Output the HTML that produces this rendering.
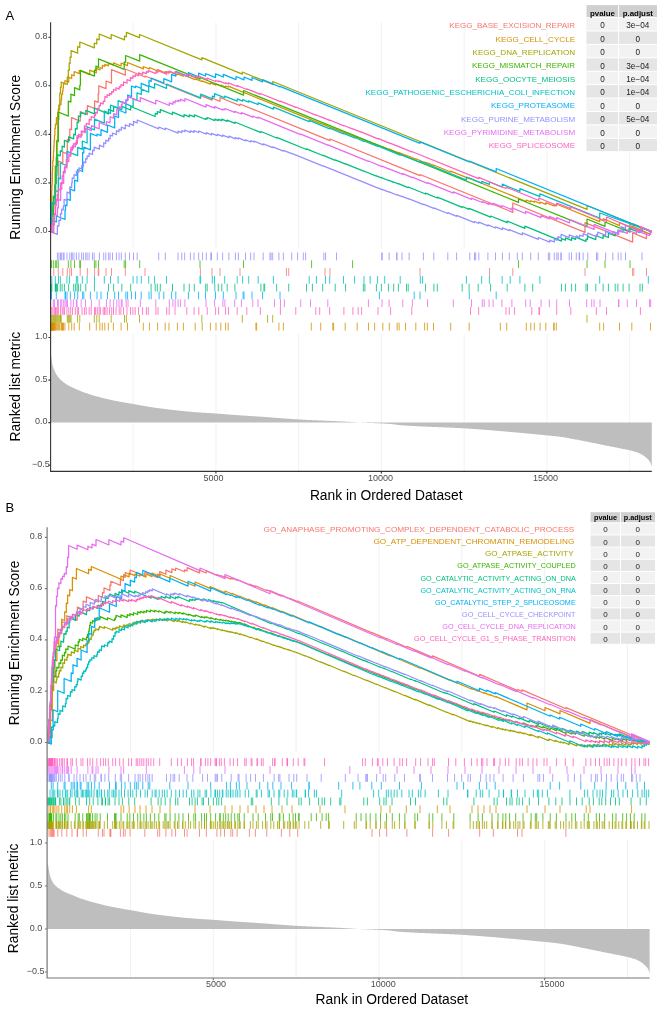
<!DOCTYPE html>
<html><head><meta charset="utf-8"><style>
html,body{margin:0;padding:0;background:#fff;}
svg{display:block;font-family:"Liberation Sans",sans-serif;will-change:transform;}
</style></head><body>
<svg width="666" height="1015" viewBox="0 0 666 1015">
<rect width="666" height="1015" fill="#fff"/>
<path d="M133.15 22.3V248.4M133.15 334.0V471.4M215.90 22.3V248.4M215.90 334.0V471.4M298.65 22.3V248.4M298.65 334.0V471.4M381.40 22.3V248.4M381.40 334.0V471.4M464.15 22.3V248.4M464.15 334.0V471.4M546.90 22.3V248.4M546.90 334.0V471.4M629.65 22.3V248.4M629.65 334.0V471.4" stroke="#EDEDED" stroke-width="0.8" fill="none"/>
<path d="M50.4,422.6 L50.40,352.82 L51.06,355.12 L51.72,360.07 L52.39,364.22 L53.05,366.74 L53.71,368.74 L54.37,370.39 L55.03,371.87 L55.70,373.20 L56.36,374.36 L57.02,375.39 L57.68,376.31 L58.34,377.17 L59.01,377.97 L59.67,378.72 L60.33,379.42 L60.99,380.08 L61.65,380.69 L62.32,381.27 L62.98,381.82 L63.64,382.34 L64.30,382.84 L64.96,383.31 L65.63,383.76 L66.29,384.19 L66.95,384.61 L67.61,385.01 L68.27,385.39 L68.94,385.76 L69.60,386.12 L70.26,386.46 L70.92,386.79 L71.58,387.11 L72.25,387.42 L72.91,387.72 L73.57,388.03 L74.23,388.32 L74.89,388.62 L75.56,388.91 L76.22,389.20 L76.88,389.49 L77.54,389.77 L78.20,390.05 L78.87,390.33 L79.53,390.60 L80.19,390.87 L80.85,391.14 L81.51,391.40 L82.18,391.66 L82.84,391.91 L83.50,392.16 L84.16,392.41 L84.82,392.65 L85.49,392.88 L86.15,393.12 L86.81,393.34 L87.47,393.57 L88.13,393.79 L88.80,394.00 L89.46,394.22 L90.12,394.43 L90.78,394.64 L91.44,394.84 L92.11,395.04 L92.77,395.24 L93.43,395.44 L94.09,395.63 L94.75,395.82 L95.42,396.01 L96.08,396.20 L96.74,396.38 L97.40,396.57 L98.06,396.75 L98.73,396.93 L99.39,397.11 L100.05,397.28 L100.71,397.46 L101.37,397.63 L102.04,397.80 L102.70,397.97 L103.36,398.14 L104.02,398.30 L104.68,398.47 L105.35,398.63 L106.01,398.79 L106.67,398.95 L107.33,399.10 L107.99,399.25 L108.66,399.41 L109.32,399.55 L109.98,399.70 L110.64,399.85 L111.30,399.99 L111.97,400.13 L112.63,400.27 L113.29,400.40 L113.95,400.54 L114.61,400.67 L115.28,400.80 L115.94,400.93 L116.60,401.06 L117.26,401.19 L117.92,401.32 L118.59,401.44 L119.25,401.57 L119.91,401.69 L120.57,401.81 L121.23,401.93 L121.90,402.05 L122.56,402.17 L123.22,402.29 L123.88,402.41 L124.54,402.52 L125.21,402.63 L125.87,402.74 L126.53,402.85 L127.19,402.96 L127.85,403.07 L128.52,403.18 L129.18,403.29 L129.84,403.40 L130.50,403.51 L131.16,403.61 L131.83,403.72 L132.49,403.83 L133.15,403.95 L133.81,404.06 L134.47,404.17 L135.14,404.29 L135.80,404.41 L136.46,404.53 L137.12,404.65 L137.78,404.77 L138.45,404.89 L139.11,405.01 L139.77,405.14 L140.43,405.26 L141.09,405.38 L141.76,405.51 L142.42,405.63 L143.08,405.75 L143.74,405.87 L144.40,405.99 L145.07,406.11 L145.73,406.23 L146.39,406.35 L147.05,406.46 L147.71,406.58 L148.38,406.69 L149.04,406.80 L149.70,406.91 L150.36,407.01 L151.02,407.12 L151.69,407.22 L152.35,407.32 L153.01,407.41 L153.67,407.51 L154.33,407.60 L155.00,407.70 L155.66,407.79 L156.32,407.88 L156.98,407.98 L157.64,408.07 L158.31,408.16 L158.97,408.24 L159.63,408.33 L160.29,408.42 L160.95,408.51 L161.62,408.59 L162.28,408.68 L162.94,408.76 L163.60,408.84 L164.26,408.93 L164.93,409.01 L165.59,409.09 L166.25,409.17 L166.91,409.25 L167.57,409.33 L168.24,409.41 L168.90,409.48 L169.56,409.56 L170.22,409.64 L170.88,409.72 L171.55,409.79 L172.21,409.87 L172.87,409.94 L173.53,410.02 L174.19,410.09 L174.86,410.17 L175.52,410.24 L176.18,410.32 L176.84,410.39 L177.50,410.46 L178.17,410.54 L178.83,410.61 L179.49,410.68 L180.15,410.75 L180.81,410.82 L181.48,410.89 L182.14,410.96 L182.80,411.03 L183.46,411.10 L184.12,411.17 L184.79,411.24 L185.45,411.30 L186.11,411.37 L186.77,411.43 L187.43,411.50 L188.10,411.56 L188.76,411.62 L189.42,411.68 L190.08,411.74 L190.74,411.80 L191.41,411.86 L192.07,411.91 L192.73,411.97 L193.39,412.02 L194.05,412.08 L194.72,412.13 L195.38,412.18 L196.04,412.23 L196.70,412.28 L197.36,412.32 L198.03,412.37 L198.69,412.41 L199.35,412.46 L200.01,412.50 L200.67,412.54 L201.34,412.59 L202.00,412.63 L202.66,412.67 L203.32,412.71 L203.98,412.75 L204.65,412.79 L205.31,412.83 L205.97,412.87 L206.63,412.91 L207.29,412.95 L207.96,412.99 L208.62,413.03 L209.28,413.07 L209.94,413.12 L210.60,413.16 L211.27,413.20 L211.93,413.24 L212.59,413.28 L213.25,413.33 L213.91,413.37 L214.58,413.42 L215.24,413.46 L215.90,413.51 L216.56,413.56 L217.22,413.60 L217.89,413.65 L218.55,413.70 L219.21,413.75 L219.87,413.80 L220.53,413.85 L221.20,413.90 L221.86,413.96 L222.52,414.01 L223.18,414.06 L223.84,414.11 L224.51,414.16 L225.17,414.22 L225.83,414.27 L226.49,414.32 L227.15,414.37 L227.82,414.43 L228.48,414.48 L229.14,414.53 L229.80,414.58 L230.46,414.64 L231.13,414.69 L231.79,414.74 L232.45,414.79 L233.11,414.84 L233.77,414.89 L234.44,414.94 L235.10,414.98 L235.76,415.03 L236.42,415.08 L237.08,415.12 L237.75,415.17 L238.41,415.22 L239.07,415.26 L239.73,415.31 L240.39,415.35 L241.06,415.40 L241.72,415.44 L242.38,415.48 L243.04,415.53 L243.70,415.57 L244.37,415.61 L245.03,415.66 L245.69,415.70 L246.35,415.74 L247.01,415.79 L247.68,415.83 L248.34,415.87 L249.00,415.91 L249.66,415.96 L250.32,416.00 L250.99,416.04 L251.65,416.08 L252.31,416.13 L252.97,416.17 L253.63,416.21 L254.30,416.25 L254.96,416.30 L255.62,416.34 L256.28,416.38 L256.94,416.43 L257.61,416.47 L258.27,416.52 L258.93,416.56 L259.59,416.61 L260.25,416.65 L260.92,416.70 L261.58,416.74 L262.24,416.79 L262.90,416.84 L263.56,416.88 L264.23,416.93 L264.89,416.98 L265.55,417.03 L266.21,417.08 L266.87,417.13 L267.54,417.18 L268.20,417.23 L268.86,417.27 L269.52,417.32 L270.18,417.37 L270.85,417.43 L271.51,417.48 L272.17,417.53 L272.83,417.58 L273.49,417.63 L274.16,417.68 L274.82,417.73 L275.48,417.78 L276.14,417.83 L276.80,417.88 L277.47,417.93 L278.13,417.98 L278.79,418.03 L279.45,418.08 L280.11,418.14 L280.78,418.19 L281.44,418.24 L282.10,418.29 L282.76,418.34 L283.42,418.39 L284.09,418.43 L284.75,418.48 L285.41,418.53 L286.07,418.58 L286.73,418.63 L287.40,418.68 L288.06,418.73 L288.72,418.77 L289.38,418.82 L290.04,418.87 L290.71,418.91 L291.37,418.96 L292.03,419.00 L292.69,419.05 L293.35,419.09 L294.02,419.14 L294.68,419.18 L295.34,419.22 L296.00,419.26 L296.66,419.31 L297.33,419.35 L297.99,419.39 L298.65,419.43 L299.31,419.47 L299.97,419.50 L300.64,419.54 L301.30,419.58 L301.96,419.62 L302.62,419.65 L303.28,419.69 L303.95,419.72 L304.61,419.76 L305.27,419.79 L305.93,419.82 L306.59,419.86 L307.26,419.89 L307.92,419.92 L308.58,419.95 L309.24,419.99 L309.90,420.02 L310.57,420.05 L311.23,420.08 L311.89,420.11 L312.55,420.14 L313.21,420.17 L313.88,420.20 L314.54,420.23 L315.20,420.26 L315.86,420.29 L316.52,420.31 L317.19,420.34 L317.85,420.37 L318.51,420.40 L319.17,420.43 L319.83,420.46 L320.50,420.48 L321.16,420.51 L321.82,420.54 L322.48,420.57 L323.14,420.59 L323.81,420.62 L324.47,420.65 L325.13,420.68 L325.79,420.70 L326.45,420.73 L327.12,420.76 L327.78,420.79 L328.44,420.82 L329.10,420.84 L329.76,420.87 L330.43,420.90 L331.09,420.93 L331.75,420.96 L332.41,420.99 L333.07,421.02 L333.74,421.05 L334.40,421.07 L335.06,421.10 L335.72,421.13 L336.38,421.16 L337.05,421.20 L337.71,421.23 L338.37,421.26 L339.03,421.29 L339.69,421.32 L340.36,421.35 L341.02,421.39 L341.68,421.42 L342.34,421.45 L343.00,421.49 L343.67,421.52 L344.33,421.56 L344.99,421.59 L345.65,421.63 L346.31,421.66 L346.98,421.70 L347.64,421.74 L348.30,421.78 L348.96,421.82 L349.62,421.86 L350.29,421.90 L350.95,421.95 L351.61,421.99 L352.27,422.03 L352.93,422.07 L353.60,422.12 L354.26,422.16 L354.92,422.20 L355.58,422.24 L356.24,422.28 L356.91,422.32 L357.57,422.37 L358.23,422.41 L358.89,422.45 L359.55,422.48 L360.22,422.52 L360.88,422.56 L361.54,422.60 L362.20,422.63 L362.86,422.67 L363.53,422.70 L364.19,422.73 L364.85,422.76 L365.51,422.79 L366.17,422.82 L366.84,422.85 L367.50,422.88 L368.16,422.91 L368.82,422.93 L369.48,422.96 L370.15,422.99 L370.81,423.01 L371.47,423.04 L372.13,423.07 L372.79,423.09 L373.46,423.12 L374.12,423.14 L374.78,423.17 L375.44,423.19 L376.10,423.22 L376.77,423.25 L377.43,423.27 L378.09,423.30 L378.75,423.33 L379.41,423.36 L380.08,423.39 L380.74,423.42 L381.40,423.45 L382.06,423.48 L382.72,423.51 L383.39,423.54 L384.05,423.58 L384.71,423.61 L385.37,423.65 L386.03,423.69 L386.70,423.73 L387.36,423.77 L388.02,423.81 L388.68,423.85 L389.34,423.90 L390.01,423.95 L390.67,424.00 L391.33,424.06 L391.99,424.13 L392.65,424.21 L393.32,424.29 L393.98,424.38 L394.64,424.47 L395.30,424.56 L395.96,424.65 L396.63,424.75 L397.29,424.83 L397.95,424.92 L398.61,425.00 L399.27,425.07 L399.94,425.13 L400.60,425.18 L401.26,425.23 L401.92,425.28 L402.58,425.33 L403.25,425.38 L403.91,425.43 L404.57,425.47 L405.23,425.52 L405.89,425.56 L406.56,425.61 L407.22,425.65 L407.88,425.69 L408.54,425.74 L409.20,425.78 L409.87,425.82 L410.53,425.86 L411.19,425.90 L411.85,425.93 L412.51,425.97 L413.18,426.01 L413.84,426.05 L414.50,426.08 L415.16,426.12 L415.82,426.15 L416.49,426.19 L417.15,426.22 L417.81,426.25 L418.47,426.29 L419.13,426.32 L419.80,426.35 L420.46,426.38 L421.12,426.41 L421.78,426.44 L422.44,426.47 L423.11,426.50 L423.77,426.53 L424.43,426.56 L425.09,426.59 L425.75,426.62 L426.42,426.65 L427.08,426.68 L427.74,426.71 L428.40,426.73 L429.06,426.76 L429.73,426.79 L430.39,426.81 L431.05,426.84 L431.71,426.87 L432.37,426.89 L433.04,426.92 L433.70,426.95 L434.36,426.97 L435.02,427.00 L435.68,427.03 L436.35,427.05 L437.01,427.08 L437.67,427.11 L438.33,427.13 L438.99,427.16 L439.66,427.18 L440.32,427.21 L440.98,427.24 L441.64,427.26 L442.30,427.29 L442.97,427.32 L443.63,427.34 L444.29,427.37 L444.95,427.40 L445.61,427.43 L446.28,427.45 L446.94,427.48 L447.60,427.51 L448.26,427.54 L448.92,427.57 L449.59,427.60 L450.25,427.63 L450.91,427.66 L451.57,427.69 L452.23,427.72 L452.90,427.75 L453.56,427.78 L454.22,427.81 L454.88,427.85 L455.54,427.88 L456.21,427.91 L456.87,427.95 L457.53,427.98 L458.19,428.01 L458.85,428.05 L459.52,428.09 L460.18,428.12 L460.84,428.16 L461.50,428.20 L462.16,428.24 L462.83,428.28 L463.49,428.32 L464.15,428.36 L464.81,428.40 L465.47,428.44 L466.14,428.48 L466.80,428.52 L467.46,428.57 L468.12,428.61 L468.78,428.65 L469.45,428.70 L470.11,428.74 L470.77,428.78 L471.43,428.83 L472.09,428.87 L472.76,428.92 L473.42,428.96 L474.08,429.01 L474.74,429.06 L475.40,429.10 L476.07,429.15 L476.73,429.20 L477.39,429.25 L478.05,429.29 L478.71,429.34 L479.38,429.39 L480.04,429.44 L480.70,429.49 L481.36,429.54 L482.02,429.59 L482.69,429.64 L483.35,429.69 L484.01,429.74 L484.67,429.79 L485.33,429.84 L486.00,429.89 L486.66,429.94 L487.32,429.99 L487.98,430.04 L488.64,430.10 L489.31,430.15 L489.97,430.20 L490.63,430.26 L491.29,430.31 L491.95,430.36 L492.62,430.42 L493.28,430.47 L493.94,430.52 L494.60,430.58 L495.26,430.63 L495.93,430.69 L496.59,430.74 L497.25,430.80 L497.91,430.85 L498.57,430.91 L499.24,430.97 L499.90,431.02 L500.56,431.08 L501.22,431.14 L501.88,431.19 L502.55,431.25 L503.21,431.31 L503.87,431.36 L504.53,431.42 L505.19,431.48 L505.86,431.54 L506.52,431.60 L507.18,431.65 L507.84,431.71 L508.50,431.77 L509.17,431.83 L509.83,431.89 L510.49,431.95 L511.15,432.01 L511.81,432.07 L512.48,432.13 L513.14,432.19 L513.80,432.25 L514.46,432.31 L515.12,432.37 L515.79,432.43 L516.45,432.49 L517.11,432.55 L517.77,432.61 L518.43,432.67 L519.10,432.73 L519.76,432.79 L520.42,432.85 L521.08,432.92 L521.74,432.98 L522.41,433.04 L523.07,433.10 L523.73,433.16 L524.39,433.23 L525.05,433.29 L525.72,433.35 L526.38,433.41 L527.04,433.48 L527.70,433.54 L528.36,433.60 L529.03,433.66 L529.69,433.73 L530.35,433.79 L531.01,433.85 L531.67,433.92 L532.34,433.98 L533.00,434.04 L533.66,434.11 L534.32,434.17 L534.98,434.23 L535.65,434.30 L536.31,434.36 L536.97,434.42 L537.63,434.49 L538.29,434.55 L538.96,434.61 L539.62,434.68 L540.28,434.74 L540.94,434.81 L541.60,434.87 L542.27,434.93 L542.93,435.00 L543.59,435.06 L544.25,435.13 L544.91,435.19 L545.58,435.26 L546.24,435.32 L546.90,435.38 L547.56,435.45 L548.22,435.51 L548.89,435.58 L549.55,435.64 L550.21,435.70 L550.87,435.77 L551.53,435.83 L552.20,435.90 L552.86,435.97 L553.52,436.03 L554.18,436.10 L554.84,436.17 L555.51,436.24 L556.17,436.32 L556.83,436.39 L557.49,436.47 L558.15,436.54 L558.82,436.62 L559.48,436.71 L560.14,436.79 L560.80,436.88 L561.46,436.97 L562.13,437.06 L562.79,437.16 L563.45,437.26 L564.11,437.37 L564.77,437.47 L565.44,437.58 L566.10,437.69 L566.76,437.81 L567.42,437.92 L568.08,438.04 L568.75,438.16 L569.41,438.28 L570.07,438.40 L570.73,438.52 L571.39,438.64 L572.06,438.76 L572.72,438.89 L573.38,439.01 L574.04,439.13 L574.70,439.26 L575.37,439.38 L576.03,439.50 L576.69,439.62 L577.35,439.75 L578.01,439.87 L578.68,440.00 L579.34,440.13 L580.00,440.26 L580.66,440.39 L581.32,440.52 L581.99,440.65 L582.65,440.79 L583.31,440.92 L583.97,441.05 L584.63,441.19 L585.30,441.32 L585.96,441.46 L586.62,441.59 L587.28,441.73 L587.94,441.86 L588.61,442.00 L589.27,442.13 L589.93,442.26 L590.59,442.40 L591.25,442.53 L591.92,442.66 L592.58,442.80 L593.24,442.93 L593.90,443.07 L594.56,443.20 L595.23,443.34 L595.89,443.48 L596.55,443.61 L597.21,443.75 L597.87,443.89 L598.54,444.02 L599.20,444.16 L599.86,444.29 L600.52,444.43 L601.18,444.57 L601.85,444.70 L602.51,444.84 L603.17,444.97 L603.83,445.11 L604.49,445.24 L605.16,445.37 L605.82,445.51 L606.48,445.64 L607.14,445.77 L607.80,445.90 L608.47,446.03 L609.13,446.16 L609.79,446.29 L610.45,446.42 L611.11,446.55 L611.78,446.68 L612.44,446.81 L613.10,446.94 L613.76,447.07 L614.42,447.20 L615.09,447.33 L615.75,447.46 L616.41,447.60 L617.07,447.73 L617.73,447.86 L618.40,447.99 L619.06,448.12 L619.72,448.26 L620.38,448.39 L621.04,448.53 L621.71,448.66 L622.37,448.79 L623.03,448.91 L623.69,449.04 L624.35,449.17 L625.02,449.30 L625.68,449.43 L626.34,449.56 L627.00,449.69 L627.66,449.83 L628.33,449.98 L628.99,450.13 L629.65,450.28 L630.31,450.44 L630.97,450.61 L631.64,450.78 L632.30,450.95 L632.96,451.14 L633.62,451.32 L634.28,451.52 L634.95,451.72 L635.61,451.93 L636.27,452.15 L636.93,452.37 L637.59,452.62 L638.26,452.87 L638.92,453.13 L639.58,453.42 L640.24,453.71 L640.90,454.04 L641.57,454.39 L642.23,454.78 L642.89,455.19 L643.55,455.63 L644.21,456.11 L644.88,456.61 L645.54,457.13 L646.20,457.69 L646.86,458.26 L647.52,458.87 L648.19,459.54 L648.85,460.31 L649.51,461.21 L650.17,462.25 L650.83,463.66 L651.50,465.73 L651.79,466.74 L651.8,422.6Z" fill="#BEBEBE"/>
<g fill="none" stroke-width="1.25" stroke-linejoin="round"><path d="M50.4,231.5 53.8,232.9 53.8,198 58.3,199.8 58.3,161 62.8,162.8 62.8,152 67.3,153.8 67.3,139.5 69.8,140.5 69.8,129 71.5,129.7 71.5,117.7 80.2,121.2 80.2,111.7 87.4,114.6 87.4,105.6 94.6,108.5 94.6,100.8 98.2,102.3 98.2,93.6 98.8,93.8 98.8,85.8 106,88.7 106,81 111.5,83.2 111.5,69.6 125.3,75.2 125.3,69 145,77 145,76 200.4,98.5 200.4,95.4 212,100.1 212,98 220,101.3 220,97.5 240,105.6 240,104 330,140.6 330,139 420,175.6 420,174.5 512.8,212.3 512.8,203 585,232.4 585,222.7 632.6,242.1 632.6,233 646.5,238.7 646.5,233 633.8,227.8 633.8,224.2 651.8,231.5" stroke="#F8766D"/><path d="M50.4,231.5 50.8,231.7 50.8,221.1 51.1,221.2 51.1,214.9 51.3,215 51.3,205.1 51.6,205.2 51.7,190.4 51.9,190.5 51.9,184.9 52.2,185 52.4,172.1 52.6,172.2 52.6,166.5 52.8,166.6 52.8,160.7 53.3,160.9 53.3,156.4 53.5,156.5 53.5,150.7 53.8,150.8 53.8,146.3 54.1,146.4 54.1,140.5 54.5,140.7 54.5,135.2 54.9,135.3 54.9,128.2 55.4,128.4 55.4,124.2 56.4,124.6 56.4,117.7 57.7,118.2 57.7,112.4 58.3,112.6 58.3,109.1 59.6,109.7 59.6,104 61,104.6 61,99.6 61.6,99.9 61.6,94 62.5,94.4 62.5,90.9 63,91.1 63,87.8 63.4,88 63.4,83.3 64.9,83.9 64.9,80.5 68.8,82.1 68.8,77.3 71.7,78.5 71.7,74.7 74.2,75.8 74.2,71.5 79.3,73.6 79.3,70.4 89.7,74.7 89.7,70.2 96.3,72.9 96.3,68.4 99.9,69.9 99.9,67.5 102.3,68.5 102.3,65.4 104.8,66.4 104.8,64.4 108.3,65.9 108.3,63.1 113.4,65.2 113.4,62.8 121.1,66 121.1,63 127.5,65.6 127.5,62.5 143.3,68.9 143.3,66.5 149.4,69 149.4,67.5 157.6,70.8 157.6,69.7 165.2,72.8 165.2,71.6 169,73.1 169,71.4 177.4,74.8 177.4,73.8 183.4,76.2 183.4,74.8 195.2,79.6 195.2,78.9 202.2,81.7 202.2,80.8 210.4,84.1 210.4,82.8 216,85.1 216,83.8 220.8,85.8 220.8,85.1 225.6,87 225.6,86 228.2,87 228.2,86.1 320.7,123.7 320.7,123.4 333.6,128.7 333.6,128.3 345.2,133.1 345.2,132.7 357.2,137.6 357.2,137.2 368.5,141.8 368.5,141.6 374.6,144.1 374.6,143.8 382.8,147.1 382.8,146.8 389.3,149.5 389.3,149.2 397.2,152.4 397.2,152.2 399.1,153 399.1,152.7 405.5,155.3 405.5,155 415.8,159.2 415.8,158.9 424.6,162.5 424.6,162.1 427.3,163.2 427.3,162.9 433.5,165.4 433.5,165 450.7,172 450.7,171.2 469.2,178.7 469.2,178.2 526.3,201.5 526.3,200 530.8,201.8 530.8,200.7 534.3,202.2 534.3,201.1 540.1,203.5 540.1,202 545.8,204.3 545.8,202.7 554,206 554,205 556.3,206 556.3,204 599.7,221.7 599.7,219.2 603.6,220.8 603.6,218.7 619.5,225.6 619.5,222.5 631.8,228.1 631.8,225.8 650.5,234.4 650.5,230.9 651.8,231.5" stroke="#D89000"/><path d="M50.4,231.5 51.3,231.9 51.3,224 52,224.3 52,216 52.8,216.3 52.8,207 53.6,207.3 53.6,197 54.6,197.4 54.6,185 55.4,185.3 55.4,172 56.2,172.3 56.2,157 57,157.3 57,140 57.9,140.4 57.9,119 58.8,119.4 58.8,105 59.8,105.4 59.8,93 60.5,93.3 60.5,87 61.2,87.3 61.2,82 67.3,84.5 67.3,77 68.3,77.4 68.3,70 69.2,70.4 69.2,63 70.1,63.4 70.1,57 71.1,57.4 71.1,50.6 77.6,53.2 77.6,46.5 79.8,47.4 79.8,42 94.3,47.9 94.3,43 96.8,44 96.8,38.8 99.2,39.8 99.2,34 111.2,38.9 111.2,34.5 124.5,39.9 124.5,36 126.4,36.8 126.4,32.4 139.5,37.7 139.5,34.5 201.8,59.9 201.8,57.6 242.3,74.1 242.3,72 272.7,84.4 272.7,81.5 587,209.4 587,205.5 651.8,231.9" stroke="#A3A500"/><path d="M50.4,231.5 51.5,231.9 51.5,214 53.3,214.7 53.3,196 55.3,196.8 55.3,166 56.7,166.6 56.7,141 58.3,141.7 58.3,112 68.3,116.1 68.3,101 70.9,102.1 70.9,94.2 74.5,95.7 74.5,87.7 79.8,89.9 79.8,85 80.4,85.2 80.4,70.4 94.4,76.1 94.4,70 95.9,70.6 95.9,66.2 98.5,67.3 98.5,58.8 124.2,69.3 124.2,62 125.6,62.6 125.6,55.5 139.7,61.2 139.7,54.7 200,79.2 200,77.5 243.5,95.2 243.5,90.5 518.5,202.4 518.5,199 587,226.9 587,219 605,226.3 605,222 630,232.2 630,223 651.8,231.9" stroke="#39B600"/><path d="M50.4,231.5 51.1,231.8 51.2,212.6 51.9,212.8 51.9,202.9 55.2,204.2 55.2,196 55.6,196.2 55.7,183.5 56.3,183.7 56.3,174.6 56.9,174.9 56.9,165.2 57.6,165.6 57.6,154.7 60.3,155.8 60.3,150.9 62.1,151.6 62.1,146.2 64.4,147.1 64.4,140.3 68.6,142 68.6,136.8 73.7,138.8 73.7,134.2 75.4,134.9 75.4,128.5 77.1,129.1 77.1,122.1 78.4,122.6 78.4,115.8 80.7,116.8 80.7,112.5 85.8,114.5 85.8,110.3 94.4,113.8 94.4,108.1 108.5,113.9 108.5,109.4 113.6,111.4 113.6,106.4 121.8,109.7 121.8,106.4 130.7,110 130.7,106.5 155.2,116.5 155.2,113.3 157.3,114.2 157.3,111.5 160.3,112.7 160.3,109.6 172.5,114.5 172.5,112.2 184,116.9 184,114.7 189.3,116.9 189.3,114.9 194.3,116.9 194.3,114.8 205.7,119.5 205.7,118.3 207.2,118.9 207.2,117.5 214.8,120.6 214.8,119.2 218.3,120.6 218.3,119.3 221.8,120.7 221.8,119.2 227.2,121.4 227.2,120.2 234.9,123.4 234.9,122 260.9,132.6 260.9,131.5 276.7,138 276.7,137.3 306.5,149.5 306.5,148.9 322.7,155.5 322.7,155.2 335.2,160.3 335.2,159.9 345.6,164.2 345.6,163.9 364.9,171.7 364.9,171.5 376.4,176.2 376.4,175.9 381.4,177.9 381.4,177.6 388.4,180.5 388.4,180.1 393.7,182.3 393.7,182 398.4,183.9 398.4,183.6 408.2,187.6 408.2,187 425.5,194 425.5,193.2 437.3,198 437.3,197.2 462.2,207.3 462.2,206.5 469.1,209.3 469.1,208.3 490.6,217.1 490.6,216 507.2,222.7 507.2,221.1 524.9,228.3 524.9,226.2 561.5,241.1 561.5,238.7 565.4,240.2 565.4,237.9 571.6,240.4 571.6,237.7 575.6,239.4 575.6,237.1 586,241.4 586,239 587.5,239.7 587.5,236.3 595.8,239.6 595.8,235.5 603.1,238.5 603.1,235.3 608.4,237.5 608.4,233.1 615.2,235.8 615.2,233 617.9,234.1 617.9,230.1 623.1,232.1 623.1,228.8 629.1,231.2 629.1,228.3 640,232.7 640,230.1 642.3,231.1 642.3,227.7 651.8,231.5" stroke="#00BF7D"/><path d="M50.4,231.5 51.8,232.1 51.8,202.6 55.3,204 55.3,190.5 58.5,191.8 58.5,178.2 60.3,178.9 60.3,163 66.9,165.7 66.9,151.3 77.7,155.6 77.7,147.4 82.3,149.3 82.3,141 87.1,143 87.1,126.8 94.5,129.8 94.5,119.1 104.3,123.1 104.3,111 110.5,113.5 110.5,105 118.1,108.1 118.1,100.7 133.1,106.8 133.1,98.8 137,100.4 137,92.8 141.3,94.5 141.3,89.1 148.7,92.1 148.7,85.8 154.6,88.2 154.6,83.5 166.5,88.4 166.5,84 200.7,97.9 200.7,94.2 212.3,98.9 212.3,96.2 214.5,97.1 214.5,93.6 224.7,97.8 224.7,96.1 237.2,101.2 237.2,98.9 242.6,101.1 242.6,99.7 248.7,102.2 248.7,100.8 258.2,104.6 258.2,102.9 273.4,109.1 273.4,107.1 309.2,121.7 309.2,120.4 329.7,128.8 329.7,128.1 343.5,133.8 343.5,133.4 354.6,137.9 354.6,137.5 364,141.4 364,141 377.6,146.3 377.6,145.9 400.2,155.2 400.2,154.4 420.3,162.5 420.3,161.3 466.4,180.1 466.4,177 481.7,183.2 481.7,181.3 489.4,184.4 489.4,182 502.2,187.2 502.2,184.2 519.9,191.4 519.9,188.6 539.9,196.7 539.9,193.8 599.7,218.2 599.7,213 651.8,231.5" stroke="#00BFC4"/><path d="M50.4,231.5 50.9,231.7 50.9,226 51.5,226.2 51.5,220 56.3,222 56.3,216 65,219.5 65,210 65.5,210.2 65.5,205 67,205.6 67,199 70.3,200.3 70.3,189 74.6,190.8 74.6,180 77.7,181.3 77.7,169.5 82.6,171.5 82.6,152.5 83.8,153 83.8,147.1 90.4,149.8 90.4,133.3 97,136 97,134 101,135.6 101,129.7 107.5,132.3 107.5,125 114.7,127.9 114.7,116 118.5,117.5 118.5,110 125.9,113 125.9,100 127.6,100.7 127.6,95 131.5,96.6 131.5,86 135.5,87.6 135.5,86 141.2,88.3 141.2,83.4 149,86.6 149,80.5 151.2,81.4 151.2,78 163.8,83.1 163.8,78.6 171.6,81.8 171.6,74.4 175.8,76.1 175.8,71.4 188.4,76.5 188.4,72.6 198.6,76.8 198.6,73.2 205.5,76 205.5,73.5 215.5,77.6 215.5,73.8 223.3,77 223.3,74.4 236,79.6 236,76.5 244,79.8 244,77 252,80.3 252,77.5 262.6,81.8 262.6,79.7 280,86.8 280,86.3 420,143.3 420,141.9 469.3,162 469.3,161 496.2,171.9 496.2,168.5 651.8,231.8" stroke="#00B0F6"/><path d="M50.4,231.5 57.4,234.4 57.4,225.5 58.9,226.1 58.9,220 60.5,220.6 60.5,213.5 61.6,214 61.6,209.2 63.3,209.9 63.3,206 64.1,206.3 64.1,199.4 67,200.5 67,192.2 69.8,193.3 69.8,186.8 71.7,187.6 71.7,182.6 72.2,182.9 72.2,177.8 74,178.5 74,174.6 76.4,175.6 76.4,171.2 78.9,172.2 78.9,167.9 81.6,169 81.6,165.8 83.4,166.6 83.4,161.9 85.7,162.8 85.7,158.6 87.1,159.1 87.1,155.8 89.1,156.6 89.1,153.1 92.5,154.5 92.5,150.1 94.2,150.8 94.2,147.1 99.4,149.2 99.4,145.2 103.7,147 103.7,142.7 105.8,143.6 105.8,140.1 108.6,141.2 108.6,138.2 110.1,138.9 110.1,135.1 112.5,136 112.5,133 116.4,134.6 116.4,130.7 119,131.8 119,129.2 121.3,130.2 121.3,127.2 125.3,128.8 125.3,124.8 129.5,126.5 129.5,123.7 133.5,125.3 133.5,121.4 137.2,122.9 137.2,120 158.7,128.8 158.7,127 165.3,129.7 165.3,128 178,133.2 178,131.1 181.8,132.6 181.8,130.5 184.7,131.6 184.7,130.1 190.4,132.4 190.4,130.9 194,132.4 194,130.6 198.7,132.5 198.7,131 206.3,134.1 206.3,132.7 211.5,134.8 211.5,133.3 217.3,135.6 217.3,134.3 222.6,136.4 222.6,135.1 228.9,137.7 228.9,136.1 235.4,138.8 235.4,137.6 238.4,138.9 238.4,137.9 245.5,140.8 245.5,139.9 250.7,142 250.7,140.7 254,142 254,141.2 263.2,144.9 263.2,143.8 272.7,147.7 272.7,146.8 283.4,151.1 283.4,150.3 291.7,153.7 291.7,153.3 323.8,166.4 323.8,166.1 381.9,189.7 382,189.3 389.1,192.2 389.1,191.9 396.8,195 396.9,194.6 402,196.6 402,196.3 409.1,199.2 409.1,198.8 423.4,204.6 423.4,204.2 433.8,208.4 433.8,207.8 447.8,213.5 447.8,212.7 456.6,216.3 456.6,215.4 474.5,222.7 474.5,221.5 478.8,223.3 478.8,222.2 487.9,225.9 487.9,224.9 495.5,228 495.5,226.9 502.4,229.7 502.4,227.9 509.3,230.7 509.3,229.6 522.3,234.8 522.3,232.8 538.3,239.3 538.3,237.5 549.7,242.2 549.7,240.2 554.3,242 554.3,239.2 556.8,240.3 556.8,237.9 558.2,238.5 558.2,236.7 561,237.8 561.1,234.4 569.2,237.7 569.2,234.8 576.3,237.7 576.3,235.9 579.6,237.3 579.6,235 583.1,236.4 583.1,233.7 587.8,235.6 587.8,233.2 596.5,236.7 596.5,234.7 597.7,235.2 597.7,232.2 605.6,235.4 605.6,231.2 612.8,234.2 612.8,231.4 618.2,233.6 618.2,230.7 621,231.8 621,226.7 625.5,228.5 625.5,225.2 642,231.7 642,227.6 651.8,231.5" stroke="#9590FF"/><path d="M50.4,231.5 53.3,232.7 53.3,224.6 54.4,225.1 54.4,214.4 57.5,215.6 57.5,207.6 58.3,208 58.3,199.3 60.7,200.3 60.7,188.8 61.8,189.2 61.8,182.5 63.7,183.3 63.7,172.4 65.1,173 65.1,166.8 66.3,167.3 66.3,159.4 67.5,159.9 67.5,153.5 70.9,154.8 70.9,147.3 73.4,148.3 73.4,143.6 76.4,144.8 76.4,140.6 77,140.9 77,135.6 81.2,137.3 81.2,131 85.5,132.7 85.5,128.2 91.4,130.6 91.4,125.6 99.2,128.8 99.2,122.5 106.4,125.5 106.4,121.5 110.1,122.9 110.1,116.8 113.6,118.2 113.6,113.6 116.8,114.9 116.8,109.3 119,110.2 119,106.9 121.3,107.8 121.3,104.7 122.1,105.1 122.1,101.7 126.1,103.3 126.1,99.4 128,100.2 128,96.7 140.3,101.7 140.3,97.6 155.8,103.9 155.8,100 169.3,105.5 169.3,102.9 172.9,104.3 172.9,101.9 175.2,102.8 175.2,100.5 178.1,101.6 178.1,100.1 180.4,101.1 180.4,99.4 184.9,101.2 184.9,98.5 206,107.1 206,104.7 214.6,108.2 214.6,106.7 222.9,110.1 222.9,109 224.9,109.8 224.9,108.5 234.7,112.4 234.7,111.3 241.4,114 241.4,112.6 252.8,117.2 252.8,116.1 258,118.2 258,117.2 300.7,134.6 300.7,134.2 327.8,145.2 327.8,144.8 368.4,161.3 368.4,161 382,166.6 382,166.2 389.1,169.1 389.1,168.8 402.8,174.4 402.8,173.7 412.4,177.6 412.4,177.2 427.5,183.3 427.5,182.6 453.3,193.1 453.3,191.9 471.5,199.3 471.5,198.1 482.3,202.5 482.3,201.6 489.1,204.4 489.1,203.2 493.1,204.8 493.1,203.4 501.9,206.9 501.9,205.5 511.9,209.6 511.9,207.9 525.7,213.5 525.7,211.4 541.1,217.7 541.1,215.6 549.3,219 549.3,216.4 556.7,219.4 556.7,217.7 569.5,222.9 569.5,219.4 594.1,229.4 594.1,224.3 618.8,234.3 618.8,230.1 627.3,233.4 627.3,229.9 636.5,233.5 636.5,230.6 649.5,235.7 649.5,233.2 650.7,233.7 650.7,231.1 651.8,231.5" stroke="#E76BF3"/><path d="M50.4,231.5 51.8,232.1 51.8,224.7 53,225.2 53,219.9 54.4,220.5 54.4,213.6 55.5,214.1 55.5,205.8 56.2,206 56.2,200.3 57.3,200.7 57.3,194.7 58.4,195.2 58.4,189.2 60.5,190.1 60.5,182.9 62.2,183.6 62.2,175.9 63.2,176.3 63.2,171.3 64.5,171.8 64.5,166.9 66.9,167.9 66.9,160.8 68.8,161.6 68.8,155.7 70.7,156.4 70.7,149.5 72.5,150.2 72.5,145.9 75.3,147 75.3,142.9 77.3,143.7 77.3,137.5 78.6,138 78.6,134.3 82,135.6 82,131 84.4,132 84.4,125.8 86.2,126.6 86.2,123.3 89.2,124.5 89.2,119.3 91.2,120.1 91.2,116.5 94.5,117.9 94.5,115.1 95.6,115.5 95.6,112.4 97.3,113.1 97.3,108.2 99.1,109 99.1,105.4 100.4,105.9 100.4,102.8 103.2,103.9 103.2,101 104.8,101.7 104.9,96.5 107.1,97.4 107.1,94.6 109.6,95.7 109.6,93.4 111.7,94.2 111.7,91.5 113.5,92.2 113.5,89.3 116,90.4 116,87.7 119.2,89.1 119.2,86.5 120.9,87.2 120.9,84.5 123.5,85.6 123.5,81.8 127,83.3 127,79.5 130.5,80.9 130.5,77.3 132.9,78.3 132.9,75.7 135.2,76.7 135.2,74.5 138.5,75.8 138.5,72.8 142.6,74.4 142.6,72.1 146.4,73.6 146.4,71.5 148.3,72.3 148.3,70.6 155.9,73.6 155.9,71.6 158,72.4 158,70.6 166.7,74.1 166.7,71.6 169.2,72.6 169.2,71.1 175,73.5 175,71.6 186.8,76.5 186.8,74.2 194.1,77.1 194.1,75.8 198.8,77.8 198.8,76 207.2,79.5 207.2,78.1 215.6,81.5 215.6,80.5 218.6,81.7 218.6,80.8 225.6,83.7 225.6,82.8 228.4,83.9 228.4,82.9 237.2,86.5 237.2,85.6 246.8,89.5 246.8,88.8 260.4,94.3 260.4,93.5 280.4,101.7 280.4,101.1 295.8,107.4 295.8,107 315.8,115.1 315.8,114.9 319.7,116.5 319.7,116.3 329.7,120.3 329.7,120 343.9,125.8 343.9,125.5 352.9,129.1 352.9,128.9 361.6,132.4 361.6,132.1 378,138.8 378,138.4 390.6,143.6 390.6,143.3 411.8,151.9 411.8,151.5 478.6,178.7 478.6,177.4 506,188.5 506,187.1 538.9,200.5 538.9,198 556.7,205.3 556.7,203 570.8,208.7 570.8,206.9 606.5,221.5 606.5,217 640.4,231.3 640.4,226.6 651.8,231.5" stroke="#FF62BC"/></g>
<g fill="none" stroke-width="0.8"><path d="M57.4 252.5V260.3M58.9 252.5V260.3M60.5 252.5V260.3M61.6 252.5V260.3M63.3 252.5V260.3M64.1 252.5V260.3M67 252.5V260.3M69.8 252.5V260.3M71.7 252.5V260.3M72.2 252.5V260.3M74 252.5V260.3M76.4 252.5V260.3M78.9 252.5V260.3M81.6 252.5V260.3M83.4 252.5V260.3M85.7 252.5V260.3M87.1 252.5V260.3M89.1 252.5V260.3M92.5 252.5V260.3M94.2 252.5V260.3M99.4 252.5V260.3M103.7 252.5V260.3M105.8 252.5V260.3M108.6 252.5V260.3M110.1 252.5V260.3M112.5 252.5V260.3M116.4 252.5V260.3M119 252.5V260.3M121.3 252.5V260.3M125.3 252.5V260.3M129.5 252.5V260.3M133.5 252.5V260.3M137.2 252.5V260.3M158.7 252.5V260.3M165.3 252.5V260.3M178 252.5V260.3M181.8 252.5V260.3M184.7 252.5V260.3M190.4 252.5V260.3M194 252.5V260.3M198.7 252.5V260.3M202.6 252.5V260.3M206.3 252.5V260.3M210.8 252.5V260.3M211.5 252.5V260.3M217.3 252.5V260.3M222.6 252.5V260.3M228.9 252.5V260.3M235.4 252.5V260.3M238.4 252.5V260.3M245.5 252.5V260.3M250.7 252.5V260.3M254 252.5V260.3M263.2 252.5V260.3M269.9 252.5V260.3M271.1 252.5V260.3M272.7 252.5V260.3M278.9 252.5V260.3M283.4 252.5V260.3M291.7 252.5V260.3M297.6 252.5V260.3M303.3 252.5V260.3M305.6 252.5V260.3M323.8 252.5V260.3M325.6 252.5V260.3M336.5 252.5V260.3M381.9 252.5V260.3M382 252.5V260.3M389.1 252.5V260.3M396.8 252.5V260.3M396.9 252.5V260.3M402 252.5V260.3M409.1 252.5V260.3M423.4 252.5V260.3M433.8 252.5V260.3M447.8 252.5V260.3M456.6 252.5V260.3M469.8 252.5V260.3M474.5 252.5V260.3M475.6 252.5V260.3M478.8 252.5V260.3M487.9 252.5V260.3M495.5 252.5V260.3M502.4 252.5V260.3M509.3 252.5V260.3M517.3 252.5V260.3M522.3 252.5V260.3M530.7 252.5V260.3M538.3 252.5V260.3M548.4 252.5V260.3M549.7 252.5V260.3M554.3 252.5V260.3M556.8 252.5V260.3M558.2 252.5V260.3M561 252.5V260.3M561.1 252.5V260.3M569.2 252.5V260.3M571.5 252.5V260.3M576.3 252.5V260.3M579.1 252.5V260.3M579.6 252.5V260.3M583.1 252.5V260.3M587.8 252.5V260.3M596.5 252.5V260.3M597.7 252.5V260.3M605.6 252.5V260.3M612.8 252.5V260.3M618.2 252.5V260.3M621 252.5V260.3M625.5 252.5V260.3M642 252.5V260.3" stroke="#9590FF"/><path d="M51.5 260.3V268.1M53.3 260.3V268.1M55.3 260.3V268.1M56.7 260.3V268.1M58.3 260.3V268.1M68.3 260.3V268.1M70.9 260.3V268.1M74.5 260.3V268.1M79.8 260.3V268.1M80.4 260.3V268.1M94.4 260.3V268.1M95.9 260.3V268.1M98.5 260.3V268.1M124.2 260.3V268.1M125.6 260.3V268.1M139.7 260.3V268.1M200 260.3V268.1M243.5 260.3V268.1M311.6 260.3V268.1M352.6 260.3V268.1M518.5 260.3V268.1M587 260.3V268.1M605 260.3V268.1M630 260.3V268.1" stroke="#39B600"/><path d="M53.8 268.1V275.9M58.3 268.1V275.9M62.8 268.1V275.9M67.3 268.1V275.9M69.8 268.1V275.9M71.5 268.1V275.9M80.2 268.1V275.9M87.4 268.1V275.9M94.6 268.1V275.9M98.2 268.1V275.9M98.8 268.1V275.9M106 268.1V275.9M111.5 268.1V275.9M125.3 268.1V275.9M145 268.1V275.9M200.4 268.1V275.9M212 268.1V275.9M220 268.1V275.9M240 268.1V275.9M286.4 268.1V275.9M288.7 268.1V275.9M325 268.1V275.9M330 268.1V275.9M420 268.1V275.9M489.6 268.1V275.9M512.8 268.1V275.9M585 268.1V275.9M632.6 268.1V275.9M633.8 268.1V275.9M646.5 268.1V275.9" stroke="#F8766D"/><path d="M51.8 275.9V283.7M55.3 275.9V283.7M58.5 275.9V283.7M60.3 275.9V283.7M66.9 275.9V283.7M69.6 275.9V283.7M76.4 275.9V283.7M77.7 275.9V283.7M82.3 275.9V283.7M87.1 275.9V283.7M94.5 275.9V283.7M104.3 275.9V283.7M110.5 275.9V283.7M118.1 275.9V283.7M133.1 275.9V283.7M137 275.9V283.7M141.3 275.9V283.7M148.7 275.9V283.7M154.6 275.9V283.7M166.5 275.9V283.7M200 275.9V283.7M200.7 275.9V283.7M212.3 275.9V283.7M214.5 275.9V283.7M224.7 275.9V283.7M237.2 275.9V283.7M242.6 275.9V283.7M248.7 275.9V283.7M258.2 275.9V283.7M273.4 275.9V283.7M309.2 275.9V283.7M316.4 275.9V283.7M325.5 275.9V283.7M329.7 275.9V283.7M343.5 275.9V283.7M354.6 275.9V283.7M364 275.9V283.7M370.1 275.9V283.7M377.6 275.9V283.7M384.7 275.9V283.7M400.2 275.9V283.7M420.3 275.9V283.7M422.6 275.9V283.7M466.4 275.9V283.7M481.7 275.9V283.7M489.4 275.9V283.7M502.2 275.9V283.7M510.2 275.9V283.7M519.9 275.9V283.7M539.9 275.9V283.7M599.7 275.9V283.7M648.3 275.9V283.7" stroke="#00BFC4"/><path d="M51.1 283.7V291.5M51.2 283.7V291.5M51.9 283.7V291.5M55.2 283.7V291.5M55.6 283.7V291.5M55.7 283.7V291.5M56.3 283.7V291.5M56.9 283.7V291.5M57.6 283.7V291.5M60.3 283.7V291.5M62.1 283.7V291.5M64.4 283.7V291.5M68.6 283.7V291.5M73.7 283.7V291.5M75.4 283.7V291.5M77.1 283.7V291.5M78.4 283.7V291.5M80.7 283.7V291.5M85.8 283.7V291.5M94.4 283.7V291.5M108.5 283.7V291.5M113.6 283.7V291.5M121.8 283.7V291.5M130.7 283.7V291.5M151.1 283.7V291.5M155.2 283.7V291.5M157.3 283.7V291.5M160.3 283.7V291.5M172.5 283.7V291.5M184 283.7V291.5M189.3 283.7V291.5M194.3 283.7V291.5M205.7 283.7V291.5M207.2 283.7V291.5M214.8 283.7V291.5M218.3 283.7V291.5M221.8 283.7V291.5M227.2 283.7V291.5M234.9 283.7V291.5M260.9 283.7V291.5M263.9 283.7V291.5M264.7 283.7V291.5M276.7 283.7V291.5M288.7 283.7V291.5M306.5 283.7V291.5M312.4 283.7V291.5M322.7 283.7V291.5M335.2 283.7V291.5M345.6 283.7V291.5M363.4 283.7V291.5M364.9 283.7V291.5M376.4 283.7V291.5M381.4 283.7V291.5M388.4 283.7V291.5M393.7 283.7V291.5M398.4 283.7V291.5M406.5 283.7V291.5M408.2 283.7V291.5M425.5 283.7V291.5M433.9 283.7V291.5M437.3 283.7V291.5M462.2 283.7V291.5M469.1 283.7V291.5M478.2 283.7V291.5M490.6 283.7V291.5M507.2 283.7V291.5M524.9 283.7V291.5M532.7 283.7V291.5M561.5 283.7V291.5M565.4 283.7V291.5M571.6 283.7V291.5M575.6 283.7V291.5M586 283.7V291.5M587.5 283.7V291.5M595.8 283.7V291.5M603.1 283.7V291.5M608.4 283.7V291.5M615.2 283.7V291.5M617.9 283.7V291.5M623.1 283.7V291.5M629.1 283.7V291.5M640 283.7V291.5M642.3 283.7V291.5" stroke="#00BF7D"/><path d="M50.9 291.5V299.3M51.5 291.5V299.3M56.3 291.5V299.3M65 291.5V299.3M65.5 291.5V299.3M67 291.5V299.3M70.3 291.5V299.3M74.6 291.5V299.3M77.7 291.5V299.3M82.6 291.5V299.3M83.8 291.5V299.3M90.4 291.5V299.3M97 291.5V299.3M101 291.5V299.3M107.5 291.5V299.3M114.7 291.5V299.3M118.5 291.5V299.3M125.9 291.5V299.3M127.6 291.5V299.3M131.5 291.5V299.3M135.5 291.5V299.3M141.2 291.5V299.3M149 291.5V299.3M151.2 291.5V299.3M159.1 291.5V299.3M163.8 291.5V299.3M171.6 291.5V299.3M175.8 291.5V299.3M188.4 291.5V299.3M198.6 291.5V299.3M205.5 291.5V299.3M215.5 291.5V299.3M223.3 291.5V299.3M236 291.5V299.3M243.1 291.5V299.3M244 291.5V299.3M252 291.5V299.3M262.6 291.5V299.3M280 291.5V299.3M379.4 291.5V299.3M414.2 291.5V299.3M420 291.5V299.3M469.3 291.5V299.3M496.2 291.5V299.3" stroke="#00B0F6"/><path d="M53.3 299.3V307.1M54.4 299.3V307.1M57.5 299.3V307.1M58.3 299.3V307.1M60.7 299.3V307.1M61.8 299.3V307.1M63.7 299.3V307.1M65.1 299.3V307.1M66.3 299.3V307.1M67.5 299.3V307.1M70.9 299.3V307.1M73.4 299.3V307.1M76.4 299.3V307.1M77 299.3V307.1M81.2 299.3V307.1M85.5 299.3V307.1M91.4 299.3V307.1M99.2 299.3V307.1M106.4 299.3V307.1M110.1 299.3V307.1M113.6 299.3V307.1M116.8 299.3V307.1M119 299.3V307.1M121.3 299.3V307.1M122.1 299.3V307.1M126.1 299.3V307.1M128 299.3V307.1M140.3 299.3V307.1M155.8 299.3V307.1M169.3 299.3V307.1M172.9 299.3V307.1M175.2 299.3V307.1M178.1 299.3V307.1M180.4 299.3V307.1M184.9 299.3V307.1M206 299.3V307.1M214.6 299.3V307.1M222.9 299.3V307.1M224.9 299.3V307.1M234.7 299.3V307.1M241.4 299.3V307.1M252.8 299.3V307.1M258 299.3V307.1M274.5 299.3V307.1M280.5 299.3V307.1M284.4 299.3V307.1M300.7 299.3V307.1M310.5 299.3V307.1M327.8 299.3V307.1M368.4 299.3V307.1M382 299.3V307.1M389.1 299.3V307.1M402.8 299.3V307.1M412.4 299.3V307.1M427.5 299.3V307.1M453.3 299.3V307.1M471.5 299.3V307.1M482.3 299.3V307.1M484.2 299.3V307.1M489.1 299.3V307.1M493.1 299.3V307.1M501.9 299.3V307.1M511.9 299.3V307.1M525.7 299.3V307.1M530.2 299.3V307.1M541.1 299.3V307.1M549.3 299.3V307.1M556.7 299.3V307.1M569.5 299.3V307.1M586.7 299.3V307.1M591.7 299.3V307.1M594.1 299.3V307.1M600 299.3V307.1M618.7 299.3V307.1M618.8 299.3V307.1M627.3 299.3V307.1M636.5 299.3V307.1M649.5 299.3V307.1M650.7 299.3V307.1" stroke="#E76BF3"/><path d="M51.8 307.1V314.9M53 307.1V314.9M54.4 307.1V314.9M55.5 307.1V314.9M56.2 307.1V314.9M57.3 307.1V314.9M58.4 307.1V314.9M60.5 307.1V314.9M62.2 307.1V314.9M63.2 307.1V314.9M64.5 307.1V314.9M66.9 307.1V314.9M68.8 307.1V314.9M70.7 307.1V314.9M72.5 307.1V314.9M75.3 307.1V314.9M77.3 307.1V314.9M78.6 307.1V314.9M82 307.1V314.9M84.4 307.1V314.9M86.2 307.1V314.9M89.2 307.1V314.9M91.2 307.1V314.9M94.5 307.1V314.9M95.6 307.1V314.9M97.3 307.1V314.9M99.1 307.1V314.9M100.4 307.1V314.9M103.2 307.1V314.9M104.8 307.1V314.9M104.9 307.1V314.9M107.1 307.1V314.9M109.6 307.1V314.9M111.7 307.1V314.9M113.5 307.1V314.9M116 307.1V314.9M119.2 307.1V314.9M120.9 307.1V314.9M123.5 307.1V314.9M127 307.1V314.9M130.5 307.1V314.9M132.9 307.1V314.9M135.2 307.1V314.9M138.5 307.1V314.9M142.6 307.1V314.9M146.4 307.1V314.9M148.3 307.1V314.9M155.9 307.1V314.9M158 307.1V314.9M166.7 307.1V314.9M169.2 307.1V314.9M175 307.1V314.9M186.8 307.1V314.9M194.1 307.1V314.9M198.8 307.1V314.9M207.2 307.1V314.9M215.6 307.1V314.9M218.6 307.1V314.9M225.6 307.1V314.9M228.4 307.1V314.9M237.2 307.1V314.9M246.8 307.1V314.9M260.4 307.1V314.9M280.4 307.1V314.9M295.8 307.1V314.9M315.8 307.1V314.9M319.7 307.1V314.9M329.7 307.1V314.9M343.9 307.1V314.9M352.9 307.1V314.9M358.1 307.1V314.9M361.6 307.1V314.9M378 307.1V314.9M390.6 307.1V314.9M411.8 307.1V314.9M470.5 307.1V314.9M478.6 307.1V314.9M506 307.1V314.9M509.3 307.1V314.9M514.6 307.1V314.9M531.8 307.1V314.9M538.9 307.1V314.9M539.6 307.1V314.9M556.7 307.1V314.9M570.8 307.1V314.9M596.3 307.1V314.9M606.5 307.1V314.9M640.4 307.1V314.9" stroke="#FF62BC"/><path d="M51.3 314.9V322.7M52 314.9V322.7M52.8 314.9V322.7M53.6 314.9V322.7M54.6 314.9V322.7M55.4 314.9V322.7M56.2 314.9V322.7M57 314.9V322.7M57.9 314.9V322.7M58.8 314.9V322.7M59.8 314.9V322.7M60.5 314.9V322.7M61.2 314.9V322.7M67.3 314.9V322.7M68.3 314.9V322.7M69.2 314.9V322.7M70.1 314.9V322.7M71.1 314.9V322.7M77.6 314.9V322.7M79.8 314.9V322.7M94.3 314.9V322.7M96.8 314.9V322.7M99.2 314.9V322.7M111.2 314.9V322.7M124.5 314.9V322.7M126.4 314.9V322.7M139.5 314.9V322.7M201.8 314.9V322.7M242.3 314.9V322.7M267.6 314.9V322.7M272.7 314.9V322.7M587 314.9V322.7" stroke="#A3A500"/><path d="M50.8 322.7V330.5M51.1 322.7V330.5M51.3 322.7V330.5M51.6 322.7V330.5M51.7 322.7V330.5M51.9 322.7V330.5M52.2 322.7V330.5M52.3 322.7V330.5M52.4 322.7V330.5M52.6 322.7V330.5M52.8 322.7V330.5M53.3 322.7V330.5M53.5 322.7V330.5M53.8 322.7V330.5M54.1 322.7V330.5M54.5 322.7V330.5M54.9 322.7V330.5M55.4 322.7V330.5M56.4 322.7V330.5M57.7 322.7V330.5M58.3 322.7V330.5M59.6 322.7V330.5M61 322.7V330.5M61.6 322.7V330.5M62.5 322.7V330.5M63 322.7V330.5M63.4 322.7V330.5M64.9 322.7V330.5M68.8 322.7V330.5M71.7 322.7V330.5M74.2 322.7V330.5M79.3 322.7V330.5M89.7 322.7V330.5M96.3 322.7V330.5M99.9 322.7V330.5M102.3 322.7V330.5M104.8 322.7V330.5M108.3 322.7V330.5M113.4 322.7V330.5M121.1 322.7V330.5M127.5 322.7V330.5M143.3 322.7V330.5M149.4 322.7V330.5M157.6 322.7V330.5M165.2 322.7V330.5M169 322.7V330.5M177.4 322.7V330.5M183.4 322.7V330.5M195.2 322.7V330.5M202.2 322.7V330.5M210.4 322.7V330.5M216 322.7V330.5M220.8 322.7V330.5M225.6 322.7V330.5M228.2 322.7V330.5M255.9 322.7V330.5M256.6 322.7V330.5M278.9 322.7V330.5M283.4 322.7V330.5M311.3 322.7V330.5M320.7 322.7V330.5M332.8 322.7V330.5M333.6 322.7V330.5M345.2 322.7V330.5M357.2 322.7V330.5M368.5 322.7V330.5M374.6 322.7V330.5M382.8 322.7V330.5M389.3 322.7V330.5M397.2 322.7V330.5M399.1 322.7V330.5M405.5 322.7V330.5M415.8 322.7V330.5M424.6 322.7V330.5M427.3 322.7V330.5M433.5 322.7V330.5M450.7 322.7V330.5M469.2 322.7V330.5M500.3 322.7V330.5M506.7 322.7V330.5M526.3 322.7V330.5M530.8 322.7V330.5M534.3 322.7V330.5M540.1 322.7V330.5M545.8 322.7V330.5M553.8 322.7V330.5M554 322.7V330.5M556.3 322.7V330.5M599.7 322.7V330.5M603.6 322.7V330.5M619.5 322.7V330.5M631.8 322.7V330.5M650.5 322.7V330.5" stroke="#D89000"/></g>
<path d="M50.6 22.3V471.4H651.8" stroke="#333333" stroke-width="1.1" fill="none"/>
<path d="M48.4 231.5H50.6M48.4 182.9H50.6M48.4 134.4H50.6M48.4 85.8H50.6M48.4 37.3H50.6M48.4 337.5H50.6M48.4 380.1H50.6M48.4 422.6H50.6M48.4 465.2H50.6M215.9 471.4v2.2M381.4 471.4v2.2M546.9 471.4v2.2" stroke="#333333" stroke-width="1.1" fill="none"/>
<g fill="#4D4D4D" font-size="9" text-anchor="end"><text x="47.4" y="233.0">0.0</text><text x="47.4" y="184.4">0.2</text><text x="47.4" y="135.9">0.4</text><text x="47.4" y="87.3">0.6</text><text x="47.4" y="38.8">0.8</text><text x="47.4" y="339.0">1.0</text><text x="47.4" y="381.6">0.5</text><text x="47.4" y="424.1">0.0</text><text x="49.7" y="466.7">−0.5</text></g>
<g fill="#4D4D4D" font-size="9" text-anchor="middle"><text x="213.4" y="481.3">5000</text><text x="380.4" y="481.3">10000</text><text x="545.6" y="481.3">15000</text></g>
<text x="386.2" y="500.4" font-size="13.8" text-anchor="middle" fill="#000">Rank in Ordered Dataset</text>
<text transform="translate(19.6,157.3) rotate(-90)" font-size="13.8" text-anchor="middle" fill="#000">Running Enrichment Score</text>
<text transform="translate(19.6,386.7) rotate(-90)" font-size="13.8" text-anchor="middle" fill="#000">Ranked list metric</text>
<text x="5.4" y="19.8" font-size="13" fill="#000">A</text>
<rect x="586.5" y="5.1" width="70.5" height="12.5" fill="#D0D0D0"/>
<rect x="586.5" y="17.60" width="70.5" height="13.41" fill="#F2F2F2"/>
<rect x="586.5" y="31.01" width="70.5" height="13.41" fill="#E5E5E5"/>
<rect x="586.5" y="44.42" width="70.5" height="13.41" fill="#F2F2F2"/>
<rect x="586.5" y="57.83" width="70.5" height="13.41" fill="#E5E5E5"/>
<rect x="586.5" y="71.24" width="70.5" height="13.41" fill="#F2F2F2"/>
<rect x="586.5" y="84.65" width="70.5" height="13.41" fill="#E5E5E5"/>
<rect x="586.5" y="98.06" width="70.5" height="13.41" fill="#F2F2F2"/>
<rect x="586.5" y="111.47" width="70.5" height="13.41" fill="#E5E5E5"/>
<rect x="586.5" y="124.88" width="70.5" height="13.41" fill="#F2F2F2"/>
<rect x="586.5" y="138.29" width="70.5" height="13.41" fill="#E5E5E5"/>
<path d="M618.6 5.1V151.7M586.5 17.60H657M586.5 31.01H657M586.5 44.42H657M586.5 57.83H657M586.5 71.24H657M586.5 84.65H657M586.5 98.06H657M586.5 111.47H657M586.5 124.88H657M586.5 138.29H657M586.5 151.70H657" stroke="#fff" stroke-width="1" fill="none"/>
<g font-size="7.9" font-weight="bold" text-anchor="middle" fill="#000"><text x="602.5" y="15.8">pvalue</text><text x="637.8" y="15.8">p.adjust</text></g>
<g font-size="8.2" text-anchor="middle" fill="#1a1a1a"><text x="602.5" y="28.3">0</text><text x="637.8" y="28.3">3e−04</text><text x="602.5" y="41.7">0</text><text x="637.8" y="41.7">0</text><text x="602.5" y="55.1">0</text><text x="637.8" y="55.1">0</text><text x="602.5" y="68.5">0</text><text x="637.8" y="68.5">3e−04</text><text x="602.5" y="81.9">0</text><text x="637.8" y="81.9">1e−04</text><text x="602.5" y="95.4">0</text><text x="637.8" y="95.4">1e−04</text><text x="602.5" y="108.8">0</text><text x="637.8" y="108.8">0</text><text x="602.5" y="122.2">0</text><text x="637.8" y="122.2">5e−04</text><text x="602.5" y="135.6">0</text><text x="637.8" y="135.6">0</text><text x="602.5" y="149.0">0</text><text x="637.8" y="149.0">0</text></g>
<g font-size="8" text-anchor="end"><text x="575.1" y="28.1" fill="#F8766D" textLength="125.8" lengthAdjust="spacingAndGlyphs">KEGG_BASE_EXCISION_REPAIR</text><text x="575.1" y="41.5" fill="#D89000" textLength="79.6" lengthAdjust="spacingAndGlyphs">KEGG_CELL_CYCLE</text><text x="575.1" y="54.8" fill="#A3A500" textLength="102.6" lengthAdjust="spacingAndGlyphs">KEGG_DNA_REPLICATION</text><text x="575.1" y="68.2" fill="#39B600" textLength="103.2" lengthAdjust="spacingAndGlyphs">KEGG_MISMATCH_REPAIR</text><text x="575.1" y="81.5" fill="#00BF7D" textLength="99.9" lengthAdjust="spacingAndGlyphs">KEGG_OOCYTE_MEIOSIS</text><text x="575.1" y="94.9" fill="#00BFC4" textLength="209.6" lengthAdjust="spacingAndGlyphs">KEGG_PATHOGENIC_ESCHERICHIA_COLI_INFECTION</text><text x="575.1" y="108.3" fill="#00B0F6" textLength="84.1" lengthAdjust="spacingAndGlyphs">KEGG_PROTEASOME</text><text x="575.1" y="121.6" fill="#9590FF" textLength="114.1" lengthAdjust="spacingAndGlyphs">KEGG_PURINE_METABOLISM</text><text x="575.1" y="135.0" fill="#E76BF3" textLength="131.4" lengthAdjust="spacingAndGlyphs">KEGG_PYRIMIDINE_METABOLISM</text><text x="575.1" y="148.3" fill="#FF62BC" textLength="86.4" lengthAdjust="spacingAndGlyphs">KEGG_SPLICEOSOME</text></g>
<path d="M130.44 527.2V752.4M130.44 839.2V978.0M213.28 527.2V752.4M213.28 839.2V978.0M296.12 527.2V752.4M296.12 839.2V978.0M378.96 527.2V752.4M378.96 839.2V978.0M461.80 527.2V752.4M461.80 839.2V978.0M544.64 527.2V752.4M544.64 839.2V978.0M627.48 527.2V752.4M627.48 839.2V978.0" stroke="#EDEDED" stroke-width="0.8" fill="none"/>
<path d="M47.6,929 L47.60,863.42 L48.26,865.58 L48.93,870.23 L49.59,874.13 L50.25,876.50 L50.91,878.38 L51.58,879.94 L52.24,881.33 L52.90,882.57 L53.56,883.53 L54.23,884.34 L54.89,885.05 L55.55,885.71 L56.22,886.33 L56.88,886.90 L57.54,887.43 L58.20,887.92 L58.87,888.37 L59.53,888.85 L60.19,889.31 L60.85,889.75 L61.52,890.17 L62.18,890.57 L62.84,890.94 L63.51,891.30 L64.17,891.64 L64.83,891.98 L65.49,892.29 L66.16,892.60 L66.82,892.89 L67.48,893.16 L68.14,893.43 L68.81,893.69 L69.47,893.94 L70.13,894.18 L70.80,894.43 L71.46,894.70 L72.12,894.99 L72.78,895.27 L73.45,895.55 L74.11,895.83 L74.77,896.11 L75.43,896.38 L76.10,896.65 L76.76,896.91 L77.42,897.17 L78.09,897.43 L78.75,897.68 L79.41,897.93 L80.07,898.18 L80.74,898.42 L81.40,898.66 L82.06,898.89 L82.72,899.12 L83.39,899.35 L84.05,899.57 L84.71,899.79 L85.38,900.00 L86.04,900.21 L86.70,900.42 L87.36,900.62 L88.03,900.82 L88.69,901.02 L89.35,901.21 L90.01,901.41 L90.68,901.60 L91.34,901.79 L92.00,901.97 L92.66,902.15 L93.33,902.34 L93.99,902.52 L94.65,902.69 L95.32,902.87 L95.98,903.06 L96.64,903.24 L97.30,903.42 L97.97,903.59 L98.63,903.77 L99.29,903.94 L99.95,904.11 L100.62,904.28 L101.28,904.45 L101.94,904.61 L102.61,904.78 L103.27,904.94 L103.93,905.10 L104.59,905.25 L105.26,905.41 L105.92,905.56 L106.58,905.71 L107.24,905.86 L107.91,906.00 L108.57,906.15 L109.23,906.29 L109.90,906.43 L110.56,906.57 L111.22,906.71 L111.88,906.84 L112.55,906.97 L113.21,907.11 L113.87,907.24 L114.53,907.37 L115.20,907.49 L115.86,907.62 L116.52,907.74 L117.19,907.87 L117.85,907.99 L118.51,908.12 L119.17,908.24 L119.84,908.36 L120.50,908.48 L121.16,908.59 L121.82,908.71 L122.49,908.82 L123.15,908.93 L123.81,909.05 L124.48,909.16 L125.14,909.27 L125.80,909.38 L126.46,909.48 L127.13,909.59 L127.79,909.70 L128.45,909.81 L129.11,909.92 L129.78,910.04 L130.44,910.15 L131.10,910.26 L131.77,910.38 L132.43,910.50 L133.09,910.62 L133.75,910.74 L134.42,910.86 L135.08,910.98 L135.74,911.10 L136.40,911.23 L137.07,911.35 L137.73,911.48 L138.39,911.60 L139.06,911.73 L139.72,911.85 L140.38,911.97 L141.04,912.10 L141.71,912.22 L142.37,912.34 L143.03,912.46 L143.69,912.58 L144.36,912.69 L145.02,912.81 L145.68,912.92 L146.35,913.03 L147.01,913.14 L147.67,913.25 L148.33,913.35 L149.00,913.45 L149.66,913.55 L150.32,913.65 L150.98,913.75 L151.65,913.85 L152.31,913.94 L152.97,914.04 L153.64,914.13 L154.30,914.22 L154.96,914.31 L155.62,914.40 L156.29,914.49 L156.95,914.58 L157.61,914.67 L158.27,914.76 L158.94,914.84 L159.60,914.93 L160.26,915.01 L160.93,915.10 L161.59,915.18 L162.25,915.26 L162.91,915.35 L163.58,915.43 L164.24,915.51 L164.90,915.59 L165.56,915.67 L166.23,915.75 L166.89,915.82 L167.55,915.90 L168.22,915.98 L168.88,916.06 L169.54,916.13 L170.20,916.21 L170.87,916.28 L171.53,916.36 L172.19,916.44 L172.85,916.51 L173.52,916.59 L174.18,916.66 L174.84,916.73 L175.50,916.81 L176.17,916.88 L176.83,916.95 L177.49,917.03 L178.16,917.10 L178.82,917.17 L179.48,917.24 L180.14,917.31 L180.81,917.38 L181.47,917.45 L182.13,917.52 L182.79,917.58 L183.46,917.65 L184.12,917.71 L184.78,917.78 L185.45,917.84 L186.11,917.90 L186.77,917.97 L187.43,918.03 L188.10,918.09 L188.76,918.14 L189.42,918.20 L190.08,918.26 L190.75,918.31 L191.41,918.37 L192.07,918.42 L192.74,918.47 L193.40,918.52 L194.06,918.57 L194.72,918.61 L195.39,918.66 L196.05,918.71 L196.71,918.75 L197.37,918.80 L198.04,918.84 L198.70,918.88 L199.36,918.92 L200.03,918.97 L200.69,919.01 L201.35,919.05 L202.01,919.09 L202.68,919.13 L203.34,919.17 L204.00,919.21 L204.66,919.25 L205.33,919.29 L205.99,919.33 L206.65,919.37 L207.32,919.42 L207.98,919.46 L208.64,919.50 L209.30,919.54 L209.97,919.58 L210.63,919.63 L211.29,919.67 L211.95,919.72 L212.62,919.77 L213.28,919.81 L213.94,919.86 L214.61,919.91 L215.27,919.96 L215.93,920.01 L216.59,920.06 L217.26,920.11 L217.92,920.16 L218.58,920.21 L219.24,920.26 L219.91,920.32 L220.57,920.37 L221.23,920.42 L221.90,920.48 L222.56,920.53 L223.22,920.58 L223.88,920.63 L224.55,920.69 L225.21,920.74 L225.87,920.79 L226.53,920.85 L227.20,920.90 L227.86,920.95 L228.52,921.00 L229.19,921.05 L229.85,921.10 L230.51,921.16 L231.17,921.20 L231.84,921.25 L232.50,921.30 L233.16,921.35 L233.82,921.40 L234.49,921.45 L235.15,921.49 L235.81,921.54 L236.48,921.58 L237.14,921.63 L237.80,921.67 L238.46,921.72 L239.13,921.76 L239.79,921.81 L240.45,921.85 L241.11,921.90 L241.78,921.94 L242.44,921.98 L243.10,922.03 L243.77,922.07 L244.43,922.11 L245.09,922.16 L245.75,922.20 L246.42,922.24 L247.08,922.29 L247.74,922.33 L248.40,922.37 L249.07,922.41 L249.73,922.46 L250.39,922.50 L251.06,922.54 L251.72,922.59 L252.38,922.63 L253.04,922.68 L253.71,922.72 L254.37,922.76 L255.03,922.81 L255.69,922.85 L256.36,922.90 L257.02,922.94 L257.68,922.99 L258.34,923.04 L259.01,923.08 L259.67,923.13 L260.33,923.18 L261.00,923.22 L261.66,923.27 L262.32,923.32 L262.98,923.37 L263.65,923.42 L264.31,923.47 L264.97,923.52 L265.63,923.57 L266.30,923.62 L266.96,923.67 L267.62,923.72 L268.29,923.77 L268.95,923.82 L269.61,923.87 L270.27,923.92 L270.94,923.97 L271.60,924.03 L272.26,924.08 L272.92,924.13 L273.59,924.18 L274.25,924.23 L274.91,924.28 L275.58,924.33 L276.24,924.39 L276.90,924.44 L277.56,924.49 L278.23,924.54 L278.89,924.59 L279.55,924.64 L280.21,924.69 L280.88,924.74 L281.54,924.79 L282.20,924.84 L282.87,924.89 L283.53,924.94 L284.19,924.99 L284.85,925.04 L285.52,925.08 L286.18,925.13 L286.84,925.18 L287.50,925.23 L288.17,925.27 L288.83,925.32 L289.49,925.37 L290.16,925.41 L290.82,925.46 L291.48,925.50 L292.14,925.54 L292.81,925.59 L293.47,925.63 L294.13,925.67 L294.79,925.71 L295.46,925.75 L296.12,925.79 L296.78,925.83 L297.45,925.87 L298.11,925.91 L298.77,925.95 L299.43,925.98 L300.10,926.02 L300.76,926.06 L301.42,926.09 L302.08,926.13 L302.75,926.16 L303.41,926.19 L304.07,926.23 L304.74,926.26 L305.40,926.29 L306.06,926.33 L306.72,926.36 L307.39,926.39 L308.05,926.42 L308.71,926.45 L309.37,926.48 L310.04,926.51 L310.70,926.54 L311.36,926.57 L312.03,926.60 L312.69,926.63 L313.35,926.66 L314.01,926.69 L314.68,926.72 L315.34,926.75 L316.00,926.78 L316.66,926.80 L317.33,926.83 L317.99,926.86 L318.65,926.89 L319.32,926.92 L319.98,926.94 L320.64,926.97 L321.30,927.00 L321.97,927.03 L322.63,927.06 L323.29,927.08 L323.95,927.11 L324.62,927.14 L325.28,927.17 L325.94,927.20 L326.61,927.23 L327.27,927.25 L327.93,927.28 L328.59,927.31 L329.26,927.34 L329.92,927.37 L330.58,927.40 L331.24,927.43 L331.91,927.46 L332.57,927.49 L333.23,927.52 L333.90,927.55 L334.56,927.58 L335.22,927.61 L335.88,927.64 L336.55,927.68 L337.21,927.71 L337.87,927.74 L338.53,927.77 L339.20,927.81 L339.86,927.84 L340.52,927.87 L341.18,927.91 L341.85,927.94 L342.51,927.98 L343.17,928.02 L343.84,928.05 L344.50,928.09 L345.16,928.13 L345.82,928.17 L346.49,928.21 L347.15,928.26 L347.81,928.30 L348.47,928.34 L349.14,928.38 L349.80,928.42 L350.46,928.47 L351.13,928.51 L351.79,928.55 L352.45,928.60 L353.11,928.64 L353.78,928.68 L354.44,928.72 L355.10,928.76 L355.76,928.80 L356.43,928.84 L357.09,928.88 L357.75,928.92 L358.42,928.96 L359.08,929.00 L359.74,929.03 L360.40,929.07 L361.07,929.10 L361.73,929.13 L362.39,929.16 L363.05,929.19 L363.72,929.22 L364.38,929.25 L365.04,929.28 L365.71,929.31 L366.37,929.34 L367.03,929.36 L367.69,929.39 L368.36,929.42 L369.02,929.44 L369.68,929.47 L370.34,929.50 L371.01,929.52 L371.67,929.55 L372.33,929.57 L373.00,929.60 L373.66,929.63 L374.32,929.65 L374.98,929.68 L375.65,929.71 L376.31,929.74 L376.97,929.77 L377.63,929.80 L378.30,929.83 L378.96,929.86 L379.62,929.89 L380.29,929.92 L380.95,929.95 L381.61,929.99 L382.27,930.03 L382.94,930.06 L383.60,930.10 L384.26,930.14 L384.92,930.18 L385.59,930.22 L386.25,930.27 L386.91,930.31 L387.58,930.36 L388.24,930.41 L388.90,930.47 L389.56,930.55 L390.23,930.62 L390.89,930.71 L391.55,930.80 L392.21,930.89 L392.88,930.98 L393.54,931.08 L394.20,931.17 L394.87,931.26 L395.53,931.34 L396.19,931.42 L396.85,931.49 L397.52,931.56 L398.18,931.61 L398.84,931.66 L399.50,931.71 L400.17,931.76 L400.83,931.81 L401.49,931.86 L402.16,931.90 L402.82,931.95 L403.48,932.00 L404.14,932.04 L404.81,932.08 L405.47,932.13 L406.13,932.17 L406.79,932.21 L407.46,932.25 L408.12,932.29 L408.78,932.33 L409.45,932.37 L410.11,932.41 L410.77,932.45 L411.43,932.48 L412.10,932.52 L412.76,932.55 L413.42,932.59 L414.08,932.62 L414.75,932.66 L415.41,932.69 L416.07,932.73 L416.74,932.76 L417.40,932.79 L418.06,932.82 L418.72,932.85 L419.39,932.88 L420.05,932.92 L420.71,932.95 L421.37,932.98 L422.04,933.01 L422.70,933.03 L423.36,933.06 L424.02,933.09 L424.69,933.12 L425.35,933.15 L426.01,933.18 L426.68,933.20 L427.34,933.23 L428.00,933.26 L428.66,933.29 L429.33,933.31 L429.99,933.34 L430.65,933.37 L431.31,933.39 L431.98,933.42 L432.64,933.45 L433.30,933.47 L433.97,933.50 L434.63,933.53 L435.29,933.55 L435.95,933.58 L436.62,933.61 L437.28,933.63 L437.94,933.66 L438.60,933.69 L439.27,933.71 L439.93,933.74 L440.59,933.77 L441.26,933.79 L441.92,933.82 L442.58,933.85 L443.24,933.88 L443.91,933.91 L444.57,933.93 L445.23,933.96 L445.89,933.99 L446.56,934.02 L447.22,934.05 L447.88,934.08 L448.55,934.11 L449.21,934.14 L449.87,934.17 L450.53,934.20 L451.20,934.24 L451.86,934.27 L452.52,934.30 L453.18,934.33 L453.85,934.37 L454.51,934.40 L455.17,934.44 L455.84,934.47 L456.50,934.51 L457.16,934.54 L457.82,934.58 L458.49,934.62 L459.15,934.66 L459.81,934.70 L460.47,934.74 L461.14,934.78 L461.80,934.82 L462.46,934.86 L463.13,934.90 L463.79,934.94 L464.45,934.99 L465.11,935.03 L465.78,935.07 L466.44,935.12 L467.10,935.16 L467.76,935.20 L468.43,935.25 L469.09,935.29 L469.75,935.34 L470.42,935.39 L471.08,935.43 L471.74,935.48 L472.40,935.53 L473.07,935.57 L473.73,935.62 L474.39,935.67 L475.05,935.72 L475.72,935.76 L476.38,935.81 L477.04,935.86 L477.71,935.91 L478.37,935.96 L479.03,936.01 L479.69,936.06 L480.36,936.11 L481.02,936.16 L481.68,936.21 L482.34,936.26 L483.01,936.31 L483.67,936.37 L484.33,936.42 L485.00,936.47 L485.66,936.52 L486.32,936.58 L486.98,936.63 L487.65,936.68 L488.31,936.74 L488.97,936.79 L489.63,936.84 L490.30,936.90 L490.96,936.95 L491.62,937.01 L492.29,937.06 L492.95,937.12 L493.61,937.17 L494.27,937.23 L494.94,937.29 L495.60,937.34 L496.26,937.40 L496.92,937.45 L497.59,937.51 L498.25,937.57 L498.91,937.63 L499.58,937.68 L500.24,937.74 L500.90,937.80 L501.56,937.86 L502.23,937.91 L502.89,937.97 L503.55,938.03 L504.21,938.09 L504.88,938.15 L505.54,938.21 L506.20,938.27 L506.86,938.33 L507.53,938.39 L508.19,938.45 L508.85,938.51 L509.52,938.57 L510.18,938.63 L510.84,938.69 L511.50,938.75 L512.17,938.81 L512.83,938.87 L513.49,938.93 L514.15,938.99 L514.82,939.05 L515.48,939.12 L516.14,939.18 L516.81,939.24 L517.47,939.30 L518.13,939.36 L518.79,939.43 L519.46,939.49 L520.12,939.55 L520.78,939.61 L521.44,939.68 L522.11,939.74 L522.77,939.80 L523.43,939.86 L524.10,939.93 L524.76,939.99 L525.42,940.05 L526.08,940.12 L526.75,940.18 L527.41,940.24 L528.07,940.31 L528.73,940.37 L529.40,940.44 L530.06,940.50 L530.72,940.56 L531.39,940.63 L532.05,940.69 L532.71,940.76 L533.37,940.82 L534.04,940.88 L534.70,940.95 L535.36,941.01 L536.02,941.08 L536.69,941.14 L537.35,941.21 L538.01,941.27 L538.68,941.34 L539.34,941.40 L540.00,941.47 L540.66,941.53 L541.33,941.59 L541.99,941.66 L542.65,941.72 L543.31,941.79 L543.98,941.85 L544.64,941.92 L545.30,941.98 L545.97,942.05 L546.63,942.11 L547.29,942.18 L547.95,942.24 L548.62,942.31 L549.28,942.37 L549.94,942.44 L550.60,942.51 L551.27,942.58 L551.93,942.64 L552.59,942.72 L553.26,942.79 L553.92,942.86 L554.58,942.94 L555.24,943.01 L555.91,943.09 L556.57,943.17 L557.23,943.25 L557.89,943.34 L558.56,943.43 L559.22,943.52 L559.88,943.62 L560.55,943.72 L561.21,943.82 L561.87,943.92 L562.53,944.03 L563.20,944.14 L563.86,944.25 L564.52,944.37 L565.18,944.48 L565.85,944.60 L566.51,944.72 L567.17,944.84 L567.84,944.97 L568.50,945.09 L569.16,945.21 L569.82,945.34 L570.49,945.46 L571.15,945.58 L571.81,945.71 L572.47,945.83 L573.14,945.95 L573.80,946.08 L574.46,946.20 L575.13,946.33 L575.79,946.46 L576.45,946.59 L577.11,946.72 L577.78,946.85 L578.44,946.98 L579.10,947.11 L579.76,947.24 L580.43,947.38 L581.09,947.51 L581.75,947.65 L582.42,947.78 L583.08,947.92 L583.74,948.06 L584.40,948.19 L585.07,948.33 L585.73,948.46 L586.39,948.60 L587.05,948.74 L587.72,948.87 L588.38,949.01 L589.04,949.14 L589.70,949.28 L590.37,949.41 L591.03,949.55 L591.69,949.69 L592.36,949.82 L593.02,949.96 L593.68,950.10 L594.34,950.23 L595.01,950.37 L595.67,950.51 L596.33,950.65 L596.99,950.79 L597.66,950.92 L598.32,951.06 L598.98,951.20 L599.65,951.33 L600.31,951.47 L600.97,951.61 L601.63,951.74 L602.30,951.88 L602.96,952.01 L603.62,952.15 L604.28,952.28 L604.95,952.42 L605.61,952.55 L606.27,952.68 L606.94,952.81 L607.60,952.94 L608.26,953.08 L608.92,953.21 L609.59,953.34 L610.25,953.47 L610.91,953.60 L611.57,953.73 L612.24,953.86 L612.90,954.00 L613.56,954.13 L614.23,954.26 L614.89,954.39 L615.55,954.53 L616.21,954.66 L616.88,954.79 L617.54,954.93 L618.20,955.06 L618.86,955.20 L619.53,955.33 L620.19,955.46 L620.85,955.59 L621.52,955.72 L622.18,955.85 L622.84,955.98 L623.50,956.11 L624.17,956.24 L624.83,956.38 L625.49,956.52 L626.15,956.67 L626.82,956.82 L627.48,956.97 L628.14,957.13 L628.81,957.30 L629.47,957.48 L630.13,957.65 L630.79,957.84 L631.46,958.03 L632.12,958.22 L632.78,958.42 L633.44,958.64 L634.11,958.86 L634.77,959.09 L635.43,959.33 L636.10,959.59 L636.76,959.86 L637.42,960.14 L638.08,960.44 L638.75,960.77 L639.41,961.13 L640.07,961.52 L640.73,961.94 L641.40,962.38 L642.06,962.86 L642.72,963.37 L643.39,963.90 L644.05,964.46 L644.71,965.03 L645.37,965.65 L646.04,966.33 L646.70,967.11 L647.36,968.01 L648.02,969.07 L648.69,970.50 L649.35,972.59 L649.65,973.61 L649.6,929Z" fill="#BEBEBE"/>
<g fill="none" stroke-width="1.25" stroke-linejoin="round"><path d="M47.6,742.5 49,743.1 49,723 50.3,723.6 50.3,710.2 51.4,710.6 51.4,692.6 52.1,692.9 52.1,679.7 52.7,679.9 52.7,668.8 53.5,669.2 53.5,653.5 54.1,653.8 54.1,641.9 57.8,643.5 57.8,629.1 61.8,630.8 61.8,621.5 66.8,623.7 66.8,615.7 77.2,620.2 77.4,607.1 83.1,609.6 83.1,601 86.4,602.4 86.4,596.9 98.3,602 98.3,595.5 102.5,597.4 102.5,592.4 104,593 104,587.9 109.9,590.5 109.9,585.1 110.9,585.5 110.9,581.3 120.4,585.4 120.4,579.4 123.4,580.7 123.4,576.5 125.2,577.3 125.2,572.5 130.1,574.6 130.1,570 144.8,576.3 144.8,572 157.7,577.6 157.7,574.1 159.7,575 159.7,571.6 165.9,574.3 165.9,570.2 171.9,572.7 171.9,568.8 175.6,570.4 175.6,568 184.5,571.8 184.5,569.9 187.1,571 187.1,567.6 199.5,572.9 199.5,570.1 206.3,573 206.3,570.8 216.9,575.3 216.9,574.6 220.7,576.2 220.7,575.5 224.5,577.1 224.5,576.4 230.9,579.1 230.9,578.2 232.7,579 232.7,578.4 237.1,580.3 237.1,579.5 249.4,584.8 249.4,584 255.4,586.6 255.4,585.8 266.8,590.7 266.8,589.9 281.4,596.1 281.4,595.1 289.8,598.7 289.8,598.3 297.7,601.6 297.7,601 372,632.9 372,632.7 386.7,638.8 386.7,638.5 406.9,647.2 406.9,646.4 432.6,657.4 432.6,655.9 479.7,676.2 479.7,674.4 517.5,690.6 517.5,689.5 522,691.4 522,689.9 565.9,708.7 565.9,707.6 649.6,742.5" stroke="#F8766D"/><path d="M47.6,742.5 49,743.1 49,736 50.5,736.6 50.5,720 52.3,720.8 52.3,690 53.6,690.6 53.6,675 55,675.6 55,660 56.9,660.8 56.9,646 58.8,646.8 58.8,632.5 61.7,633.7 61.7,619.2 64.7,620.5 64.7,611.8 66.3,612.5 66.3,603 67.6,603.6 67.6,595 69.7,595.9 69.7,589.5 72.4,590.7 72.4,577.3 76.4,579 76.4,568.5 88.6,573.7 88.6,569.2 91.3,570.4 91.3,566.5 121,579.3 121,576 123.7,577.2 123.7,574.6 129.1,576.9 129.1,573.2 135,575.7 135,574 140,576.1 140,574.5 146,577.1 146,574 152,576.6 152,573 160,576.4 160,574 170,578.3 170,575.5 195,586.2 195,582 210,588.4 210,586.5 225,592.9 225,591 232,594 232,593.4 240,596.8 240,596.2 248,599.7 248,599.1 256,602.5 256,601.9 264,605.4 264,604.8 272,608.2 272,607.6 282,611.9 282,611.3 292,615.6 292,615 320,627 320,626.4 345,637.1 345,636.5 390,655.9 390,655.3 420,668.2 420,667.6 450,680.5 450,679.9 472,689.3 472,688.7 478,691.3 478,690.7 484,693.3 484,692.7 490,695.2 490,694.6 496,697.2 496,696.6 527,709.9 527,703 545,710.7 545,707.5 560,713.9 560,710.5 590,723.4 590,719.5 631.6,737.4 631.6,734.8 649.6,742.5" stroke="#D89000"/><path d="M47.6,742.5 47.7,736.8 48.3,737.1 48.3,731.2 49.1,731.6 49.3,723.2 49.5,723.3 49.5,718.7 50,718.9 50,712.4 50.4,712.6 50.4,706.5 50.8,706.7 50.8,703 51.1,703.1 51.1,699.3 51.3,699.4 51.3,694.4 51.9,694.6 51.9,689.2 52.3,689.4 52.3,685.1 52.7,685.3 52.7,681.4 56.3,682.9 56.3,679.7 56.9,680 56.9,676.4 58.7,677.1 58.7,673.1 59.3,673.4 59.3,670.4 60.9,671.1 60.9,667 62.8,667.9 62.8,662.7 64.6,663.5 64.6,659.2 66.9,660.2 66.9,657 67.7,657.4 67.7,654.1 71.2,655.6 71.2,651.8 74.4,653.1 74.4,650.1 78,651.7 78,648.1 80.7,649.3 80.7,646.5 83.6,647.8 83.6,645 85.8,646 85.8,643.8 87.5,644.6 87.5,642.7 88.8,643.2 88.8,640.7 89.5,641 89.5,638.8 91.2,639.5 91.2,636.5 91.8,636.8 91.8,634.5 93.3,635.1 93.3,631.9 94.1,632.2 94.1,630 95.7,630.7 95.7,628.7 98.8,630.1 98.8,627.9 99.5,628.2 99.5,626.4 104.3,628.5 104.3,626.7 112.7,630.3 112.7,628.2 115.3,629.3 115.3,627.8 116.8,628.4 116.8,627.1 119.3,628.2 119.3,625.9 123,627.5 123,626.2 123.8,626.5 123.8,624.8 127,626.2 127,624.5 129,625.4 129,623.5 132.2,624.9 132.2,623.7 134.2,624.6 134.2,622.1 137.7,623.6 137.7,621.4 140.1,622.4 140.1,621.2 141.9,621.9 141.9,620.2 145.8,621.8 145.8,619.8 148.1,620.7 148.1,619.6 151.2,620.9 151.2,619.5 152.8,620.2 152.8,619.2 156.6,620.8 156.6,619 159.6,620.3 159.6,618.7 163.2,620.2 163.2,619.1 167.2,620.8 167.2,619.7 168.6,620.3 168.6,619.1 174.2,621.6 174.2,620 177.5,621.5 177.5,620.3 182.5,622.4 182.5,621.4 185.3,622.6 185.3,621.8 190.6,624 190.6,623 195.6,625.2 195.6,624 199.1,625.5 199.1,624.7 204.6,627.1 204.6,626 210.3,628.5 210.3,627.7 211.8,628.3 211.8,627.6 213.8,628.5 213.8,627.9 217.6,629.5 217.6,628.7 222,630.6 222,629.9 224.1,630.8 224.1,630.3 227.4,631.7 227.4,631.2 229.6,632.1 229.6,631.5 231.6,632.4 231.6,631.8 235.6,633.5 235.6,632.6 240.2,634.6 240.2,633.8 244.3,635.6 244.3,635.1 250.4,637.7 250.4,637 256.4,639.5 256.4,638.9 262.6,641.6 262.6,641 267,643 267,642.5 273.8,645.4 273.8,645 277.5,646.6 277.5,646.2 279.5,647 279.5,646.7 284.7,648.9 284.7,648.5 287.7,649.8 287.7,649.4 290.4,650.6 290.4,650.3 293.8,651.8 293.8,651.5 296.8,652.8 296.8,652.5 304.8,655.9 304.8,655.5 308.8,657.3 308.8,657.1 320.7,662.2 320.7,661.9 329.3,665.6 329.3,665.3 343.7,671.5 343.7,671.1 354.3,675.7 354.3,675.3 366.4,680.5 366.4,680.1 376.1,684.3 376.1,684 385,687.8 385,687.5 394.6,691.6 394.6,691.3 404.8,695.7 404.8,695.4 415.2,699.8 415.2,699.4 429.1,705.4 429.1,704.9 446.4,712.3 446.4,712 453.1,714.9 453.1,714.3 470.1,721.6 470.1,720.9 473.3,722.4 473.3,721.7 476.4,723.1 476.4,722.6 479.5,723.9 479.5,723.2 484.3,725.3 484.3,724.8 486.7,725.8 486.7,725 492.1,727.3 492.1,726.3 497.7,728.7 497.7,727.7 502.4,729.7 502.4,728.8 505.5,730.1 505.5,729.3 510.1,731.3 510.1,730.2 513.7,731.7 513.7,730.9 518,732.8 518,732.1 519.9,732.9 519.9,732.1 524,733.9 524,733 530.4,735.7 530.4,734.4 538.3,737.8 538.3,736.3 548.3,740.6 548.3,739.8 549.3,740.2 549.3,739 555.2,741.5 555.2,740.4 560.6,742.7 560.6,741.8 563.6,743.1 563.6,742.2 569.2,744.6 569.2,742.6 576.8,745.9 576.8,744.2 581,746 581,744.4 587.3,747.1 587.3,745.2 589.3,746.1 589.3,744.6 593.9,746.6 593.9,744.4 597.3,745.8 597.3,744.2 602.2,746.3 602.2,744.5 604,745.3 604,743.8 609.2,746 609.2,744.1 612.4,745.5 612.4,743.5 615.1,744.7 615.1,743.3 618.8,745 618.8,743.9 621.9,745.3 621.9,743.3 625.8,745 625.8,743.2 630.5,745.2 630.5,744 631.3,744.4 631.3,743 633.8,744.1 633.8,742.7 637.5,744.4 637.5,742.6 641.4,744.3 641.4,742.5 644.2,743.7 644.2,742.4 649,744.5 649,742.2 649.6,742.5" stroke="#A3A500"/><path d="M47.6,742.5 48.1,742.7 48.1,731.9 49.2,732.4 49.2,724.2 49.7,724.4 49.8,714.2 50.4,714.4 50.4,707.4 50.8,707.5 50.8,700.8 51,700.9 51,693.1 51.4,693.2 51.4,688.3 51.8,688.5 51.8,680.8 53.6,681.5 53.6,676.1 55.9,677 55.9,670.7 56.8,671.1 56.8,667.2 59,668.1 59,662.9 60.8,663.7 60.8,659.8 62.4,660.4 62.4,655.1 64.5,656 64.5,652.4 65.8,652.9 65.8,648.8 68,649.7 68,646 75.2,649.1 75.2,644.9 78.2,646.1 78.2,641.6 79.3,642.1 79.3,639.3 82.8,640.8 82.8,638.2 86.5,639.9 86.5,637 87.4,637.4 87.4,634.4 88.7,635 88.7,630.9 89.3,631.2 89.3,628.2 89.7,628.4 89.7,625.1 90.3,625.4 90.3,622.2 92.6,623.2 92.6,620.6 95.1,621.6 95.1,619.6 97,620.5 97,617.5 100.2,618.8 100.2,616.7 107.5,619.8 107.5,617.7 114.5,620.7 114.5,618.9 115.4,619.2 115.4,617.4 116.1,617.7 116.1,615.3 121,617.4 121,614.9 127.2,617.6 127.2,614.6 129.9,615.8 129.9,613.7 133.5,615.2 133.5,612.7 137.7,614.5 137.7,611.8 140.3,612.9 140.3,611.4 143.9,612.9 143.9,611.2 146.4,612.3 146.4,610.4 150.3,612 150.3,610 154.7,611.9 154.7,610.2 158.8,612 158.8,610.8 164.8,613.4 164.8,611.8 166,612.3 166,611.2 170.1,612.9 170.1,611.5 175.1,613.7 175.1,612 178.9,613.6 178.9,612.3 183,614.1 183,612.9 188.5,615.3 188.5,614.1 193.9,616.4 193.9,615.5 195.6,616.3 195.6,615 201.6,617.6 201.6,616.6 204.5,617.9 204.5,616.9 206.5,617.7 206.5,616.9 210.7,618.7 210.7,617.6 215.6,619.7 215.6,618.5 219.8,620.3 219.8,619.7 220.2,619.9 220.2,619.3 223.3,620.6 223.3,620 225.7,621 225.7,620.2 228.2,621.2 228.2,620.6 231.2,621.9 231.2,621.2 234.7,622.6 234.7,621.7 237.9,623 237.9,622.4 239.4,623.1 239.4,622.4 244.2,624.5 244.2,623.9 253,627.7 253,627.2 258.2,629.4 258.2,628.6 265.5,631.7 265.5,631.2 270.8,633.5 270.8,632.9 279.2,636.4 279.2,635.7 283.4,637.5 283.4,637.1 289.3,639.6 289.3,639.3 293.1,641 293.1,640.6 295.5,641.6 295.5,641.2 299.1,642.8 299.1,642.4 328.6,655 328.6,654.7 356.2,666.6 356.2,666.3 366,670.5 366,670.2 370.2,672 370.2,671.7 375.9,674.2 375.9,673.9 386.5,678.2 386.5,678 392.3,680.5 392.3,680.2 399.4,683.2 399.4,682.9 404.9,685.2 404.9,685 414.9,689.3 414.9,688.7 429.2,694.8 429.2,694.5 432.8,696 432.8,695.7 441.9,699.6 441.9,698.9 453.8,704.1 453.8,703.4 470.1,710.4 470.1,709.6 478.1,713.1 478.1,712.3 482.4,714.1 482.4,713.2 492,717.3 492,716.2 498,718.8 498,718 502.9,720.1 502.9,719.2 505.8,720.4 505.8,719.5 509.6,721.1 509.6,720.2 515.7,722.8 515.7,721.4 523,724.5 523,722.9 531.1,726.4 531.1,725.4 535.3,727.2 535.3,725.9 536.7,726.5 536.7,725.4 542.9,728 542.9,726.6 550.2,729.8 550.2,728 556.4,730.6 556.4,729.3 566,733.4 566,731.5 571.8,734 571.8,732.7 575.4,734.2 575.4,732.5 584.2,736.3 584.2,734.4 588.3,736.2 588.3,734.8 596.3,738.3 596.3,736.8 599.5,738.2 599.5,736.8 604.7,739.1 604.7,737.4 612.6,740.7 612.6,738.2 616,739.7 616,738.3 622.7,741.1 622.7,738.8 626.6,740.4 626.6,739.1 630.4,740.7 630.4,739.4 634.2,741 634.2,739.7 641.8,742.8 641.8,740.5 645,741.8 645,740.6 649.6,742.5" stroke="#39B600"/><path d="M47.6,742.5 47.8,742.6 47.8,734.1 48.2,734.3 48.2,726.8 48.8,727.1 48.8,719.7 49.5,720 49.5,712.2 50.3,712.5 50.3,704.7 50.9,705 50.9,698.6 51.4,698.8 51.4,689 52,689.3 52,679.6 52.9,679.9 52.9,673.6 53.6,673.9 53.6,667.6 54.3,667.9 54.3,659.7 55.5,660.2 55.7,649 59.6,650.7 59.6,646.1 60.9,646.7 60.9,641.1 63.6,642.3 63.6,638.8 63.9,638.9 63.9,633.6 66,634.5 66,631.2 67.2,631.7 67.2,627.2 69.1,628 69.1,622.2 69.8,622.5 69.8,618 75.6,620.5 75.6,614.5 79.2,616.1 79.2,611.6 86.5,614.7 86.5,609.4 89.7,610.8 89.7,607.4 93.2,608.9 93.2,606.5 97.9,608.5 97.9,605 101.7,606.6 101.7,603.8 102.5,604.1 102.5,601.3 105.4,602.5 105.4,600.4 105.6,600.5 105.6,597.7 108.1,598.7 108.1,595.5 109.6,596.1 109.6,594 115,596.4 115,593.4 119,595.1 119,591.8 122.4,593.2 122.4,590.4 128.8,593.2 128.8,590.6 134.7,593.1 134.7,591.2 151.1,598.2 151.1,596.4 158.1,599.4 158.1,597.4 161.1,598.7 161.1,596.4 165.2,598.2 165.2,596.4 170.1,598.5 170.1,596.4 175.6,598.8 175.6,597 177.8,597.9 177.8,596.5 189.5,601.5 189.5,599.4 192.1,600.5 192.1,599.3 195.1,600.5 195.1,598.7 197.4,599.7 197.4,598.3 202.1,600.3 202.1,599.3 203.5,599.9 203.5,598.8 208.5,601 208.5,599.5 213.4,601.6 213.4,600.7 216.7,602.1 216.7,601.5 218.8,602.4 218.8,601.8 221.6,603 221.6,602.3 271.3,623.7 271.3,622.9 278.9,626.2 278.9,625.7 287,629.2 287,628.7 298.9,633.8 298.9,633.2 324.6,644.2 324.6,644 340.9,651 340.9,650.8 363.8,660.6 363.8,660.4 367.4,661.9 367.4,661.7 379.7,667 379.7,666.7 383.9,668.5 383.9,668.2 392,671.7 392,671.5 410.5,679.5 410.5,679 415.5,681.2 415.5,680.7 443.7,692.8 443.7,692.4 446.9,693.7 446.9,693.2 473.9,704.8 473.9,703.6 494.1,712.3 494.1,711 506.5,716.3 506.5,714.7 512.1,717.1 512.1,716 519.2,719 519.2,717.8 529.3,722.1 529.3,720.4 538.5,724.4 538.5,722.8 548.9,727.3 548.9,725.9 555.8,728.9 555.8,727.8 562,730.5 562,728.4 570,731.9 570,730.1 576.5,732.9 576.5,731.1 582.2,733.6 582.2,731.4 589.2,734.3 589.2,732.1 593.4,733.9 593.4,732.6 599.2,735.1 599.2,733.2 601.8,734.3 601.8,732.8 605.7,734.5 605.7,733.1 610.5,735.2 610.5,733.5 615.5,735.6 615.5,734.2 619.3,735.9 619.3,733.9 631.1,739 631.1,737.6 640.2,741.6 640.2,739.7 646.3,742.3 646.3,741.1 649.6,742.5" stroke="#00BF7D"/><path d="M47.6,742.5 50,743.5 50,736.9 52.1,737.8 52.1,729.5 53.3,730 53.3,725.5 54.8,726.1 54.8,721.5 57.5,722.7 57.5,718.4 58.1,718.7 58.1,713.6 60,714.4 60,710.2 62.7,711.4 62.7,705.8 65.4,706.9 65.4,703.3 66.1,703.7 66.1,698.2 67.7,698.9 67.7,695.3 70.4,696.5 70.4,691.6 72,692.3 72,689.5 74.7,690.7 74.7,686.5 76.2,687.1 76.2,684.6 77.3,685 77.3,681.4 77.9,681.7 77.9,678.7 81.2,680.1 81.2,676 82.5,676.5 82.5,672.9 83.8,673.5 83.8,670.8 85.7,671.6 85.7,669.2 86.6,669.5 86.6,667 87.7,667.5 87.7,664 88.7,664.4 88.7,661.3 89.9,661.8 89.9,659.5 91.7,660.2 91.7,657.5 94,658.5 94,655.5 96.8,656.7 96.8,654.4 97.5,654.6 97.5,651.7 99.2,652.4 99.2,649.9 101.3,650.8 101.3,648.2 101.6,648.4 101.6,645.8 104.4,646.9 104.4,644.8 107.7,646.3 107.7,642.6 109.1,643.2 109.1,641.1 112,642.4 112,638.7 113.6,639.3 113.6,635.7 115,636.3 115,632.6 116.1,633.1 116.1,631.2 119,632.5 119,629.7 121.4,630.7 121.4,628.5 124.5,629.9 124.5,626.4 128.1,627.9 128.1,625.5 130.5,626.6 130.5,624.9 132.8,625.9 132.8,622.8 136.3,624.3 136.3,621.3 140.5,623.1 140.5,620.7 145.1,622.6 145.1,620.6 147.5,621.6 147.5,619.9 152.2,621.9 152.2,620.3 155,621.5 155,619.8 156.1,620.3 156.1,619 159.2,620.3 159.2,619.2 162.3,620.5 162.3,619.4 164.6,620.4 164.6,618.7 167.1,619.8 167.1,618.2 171.3,620 171.3,618.2 175.8,620.1 175.8,618.2 179.5,619.8 179.5,618.2 183.2,619.8 183.2,618.5 186.4,619.9 186.4,618.8 191.6,621 191.6,619.7 193.9,620.7 193.9,619.8 197.9,621.6 197.9,620.5 199.9,621.3 199.9,620 205.1,622.2 205.1,621 206.6,621.6 206.6,620.5 210.9,622.4 210.9,620.9 214.9,622.7 214.9,622.1 215.5,622.4 215.5,621.5 217.5,622.4 217.5,621.8 219.7,622.8 219.7,622 222.3,623.1 222.3,622.5 222.9,622.7 222.9,622.1 226.2,623.6 226.2,622.8 228.1,623.6 228.1,622.9 230.4,623.9 230.4,623.4 230.8,623.5 230.8,622.8 233,623.7 233,622.9 235.8,624.2 235.8,623.3 237.7,624.1 237.7,623.3 240,624.3 240,623.7 245.2,625.9 245.2,625.4 248.6,626.9 248.6,626.2 257.1,629.9 257.1,629 261.4,630.8 261.4,630.3 268.1,633.2 268.1,632.5 274,635.1 274,634.5 278.8,636.6 278.8,636 284.2,638.3 284.2,637.8 287.8,639.3 287.8,638.9 292.3,640.8 292.3,640.4 293.9,641.1 293.9,640.7 296.7,642 296.7,641.7 373.6,674.7 373.6,674.4 378.7,676.7 378.7,676.3 391.1,681.4 391.1,681.2 394.2,682.5 394.2,682.3 397.1,683.5 397.1,683.3 401.8,685.3 401.8,685.1 409,688.2 409,687.8 418.4,691.8 418.4,691.3 425.1,694.2 425.1,693.7 438.4,699.4 438.4,698.7 448,702.8 448,702.3 467.9,710.9 467.9,709.9 476.2,713.5 476.2,712.6 482.7,715.4 482.7,714.6 489.1,717.4 489.1,716.3 498.9,720.5 498.9,719.5 503.4,721.4 503.4,720.3 511.6,723.9 511.6,722.8 517.5,725.4 517.5,724.2 525,727.5 525,725.7 538.7,731.6 538.7,730.5 547.4,734.3 547.4,732.9 569.9,742.5 569.9,740.7 584.4,747 584.4,745.1 587.7,746.5 587.7,745.1 593,747.3 593,744.9 597,746.7 597,745.4 600,746.7 600,745.3 602.5,746.4 602.5,745.2 605.9,746.7 605.9,745.1 611.5,747.5 611.5,746.1 613.7,747.1 613.7,745.8 618.2,747.7 618.2,745.5 623,747.5 623,745.7 627.5,747.6 627.5,745.6 632.6,747.7 632.6,745.9 637.8,748.1 637.8,746.2 642,748 642,745.6 644.3,746.6 644.3,744.5 646.3,745.3 646.3,743.2 648.7,744.2 648.7,742.1 649.6,742.5" stroke="#00BFC4"/><path d="M47.6,742.5 51.3,744.1 51.3,727 53.1,727.8 53.1,709.8 57.7,711.8 57.7,690.5 64.1,693.3 64.1,678.5 71.2,681.5 71.2,672.8 73,673.6 73,664.7 77.1,666.5 77.1,658.3 81.1,660 81.1,650 87.1,652.5 87.1,640.8 88.7,641.5 88.7,633.2 91.5,634.4 91.5,626.2 94.7,627.6 94.7,618 99.2,620 99.2,607.8 109.5,612.3 109.5,603.6 116.3,606.5 116.3,596.7 121.6,599 121.6,589.7 125,591.2 125,583.6 130.3,585.9 130.3,580.3 134.7,582.1 134.7,577 136.4,577.8 136.4,572.3 142.8,575 142.8,570.3 169.8,581.9 169.8,578.3 188,586.1 188,581.3 210.7,591.1 210.7,587.7 226.6,594.6 226.6,593.7 230.4,595.4 230.4,594.8 236.4,597.4 236.4,596.5 239.3,597.7 239.3,597.2 247,600.5 247,599.8 259.7,605.3 259.7,604.5 267.8,608 267.8,607.1 272.8,609.3 272.8,608.7 281,612.2 281,611.5 291.6,616.1 291.6,615.5 309,623 309.1,621.9 338.7,634.6 338.7,634.1 359.9,643.2 359.9,642.9 371.8,648 371.8,647.6 381.3,651.7 381.3,651.4 399.5,659.2 399.5,658.3 457,683 457,681.2 479.4,690.8 479.4,688.4 486.7,691.5 486.7,690.2 495.2,693.8 495.2,692.6 550.2,716.2 550.2,715 559.6,719 559.6,717.2 580.8,726.3 580.8,724 594.7,730 594.7,728.5 606.2,733.5 606.2,731.5 617.5,736.3 617.5,734.3 625.8,737.8 625.8,736.3 637.1,741.1 637.1,739 644.5,742.2 644.5,740.3 649.6,742.5" stroke="#00B0F6"/><path d="M47.6,742.5 47.8,742.6 47.8,733.5 49.1,734.1 49.1,724.1 49.5,724.2 49.5,718.1 49.8,718.2 49.8,711.5 50.2,711.7 50.2,701.8 50.6,702 50.6,693.3 51.1,693.5 51.1,686.3 51.3,686.4 51.3,678.9 51.6,679 51.6,672.9 52.1,673.1 52.1,665 52.3,665.1 52.3,659.9 53.4,660.4 53.4,653.5 54.2,653.9 54.2,648.7 55,649 55,644.3 56.3,644.8 56.3,637.1 58.6,638.1 58.6,633.4 60.3,634.1 60.3,629.2 62.2,630 62.2,626.1 64.8,627.2 64.8,621.9 68.8,623.6 68.8,620.7 69.1,620.9 69.1,616.3 74,618.4 74,614.5 76.8,615.7 76.8,611.3 80,612.7 80,608.9 83.4,610.4 83.4,606.3 86,607.5 86,604.3 90.2,606.1 90.2,602.4 94.3,604.2 94.3,601.5 95.7,602.1 95.7,599.4 101,601.7 101,599.7 101.3,599.9 101.3,597 104.9,598.5 104.9,595.8 108.7,597.5 108.7,595 115.3,597.8 115.3,595.4 120.3,597.6 120.3,595.8 121.6,596.3 121.6,593.8 128.6,596.9 128.6,594.2 135.1,596.9 135.1,595.4 138.2,596.8 138.2,595.1 140.1,595.9 140.1,593.5 142.7,594.6 142.7,592.6 145.7,593.9 145.7,591.7 147.9,592.6 147.9,590.7 149.7,591.4 149.7,589.8 152.2,590.9 152.2,588.9 166.5,595 166.5,593.9 170.7,595.7 170.7,593.8 173.1,594.9 173.1,593.6 174.7,594.3 174.7,593.1 179.2,595 179.2,593.5 187,596.8 187,595.4 192.8,597.9 192.8,596.8 202.6,601 202.6,599.4 207.5,601.5 207.5,600.3 215.2,603.6 215.2,603.1 217.5,604.1 217.5,603.6 221.8,605.5 221.8,604.9 231.2,608.9 231.2,607.9 238.1,610.9 238.1,610.3 250.6,615.6 250.6,614.7 255.5,616.8 255.5,616.2 263.4,619.6 263.4,619 274.1,623.6 274.1,623.1 278.7,625.1 278.7,624.7 279.9,625.2 279.9,624.8 289,628.7 289,628.2 293.8,630.3 293.8,629.8 296.7,631 296.7,630.6 307,635.1 307,634.7 321.2,640.8 321.2,640.6 345.3,650.9 345.3,650.7 358.1,656.2 358.1,655.8 367.5,659.9 367.5,659.6 376.6,663.5 376.6,663.2 385.7,667.1 385.7,666.7 394.8,670.6 394.8,670.3 404.5,674.4 404.5,674 420.6,681 420.6,680.6 432.5,685.7 432.5,685.2 447.5,691.6 447.5,690.8 470.4,700.7 470.4,700.1 480.6,704.4 480.6,703.6 490,707.6 490,706.8 493.9,708.5 493.9,707.6 503.1,711.6 503.1,710.6 513.1,714.9 513.1,713.9 523.4,718.3 523.4,716.5 537.9,722.8 537.9,721.2 552.7,727.5 552.7,725.1 568,731.7 568,730.5 574.4,733.2 574.4,731.9 580.7,734.6 580.7,732.6 591.2,737.1 591.2,735.4 595.6,737.3 595.6,736 597.3,736.7 597.3,735.2 601.4,736.9 601.4,735.8 606.5,738 606.5,736 611.2,738 611.2,736.7 617.2,739.2 617.2,738 621.3,739.7 621.3,737.6 623.6,738.6 623.6,737.3 631.5,740.5 631.5,739.1 632.7,739.6 632.7,738.3 636.3,739.8 636.3,738.6 640,740.1 640,738.5 649.6,742.5" stroke="#9590FF"/><path d="M47.6,742.5 47.7,740.5 48.8,741 48.8,722 49.9,722.5 49.9,703.5 51,704 51,685 52.1,685.5 52.1,666.5 53.2,667 53.2,652 54.4,652.5 54.4,637 55.5,637.5 55.5,605.7 56.5,606.1 56.5,596 57.5,596.4 57.5,588.1 58.9,588.7 58.9,582.7 60.9,583.6 60.9,578.6 62.5,579.3 62.5,576 64.3,576.8 64.3,573.2 66.3,574.1 66.3,566.5 67.6,567.1 67.6,557 68.6,557.4 68.6,545.5 77.1,549.2 77.1,545.1 87.9,549.7 87.9,546.2 92,548 92,544.2 96,545.9 96,539.5 108.9,545 108.9,539.7 121,544.9 121,541 123.7,542.2 123.7,537.8 200,570.6 200,568 225,578.7 225,574.5 270,593.8 270,590.5 380,637.8 380,637.2 397,644.5 397,643.9 414,651.2 414,650.6 431,657.9 431,657.3 448,664.6 448,664 465,671.3 465,670.7 482,678 482,677.4 499,684.7 499,684.1 516,691.4 516,690.8 533,698.1 533,697.5 550,704.8 550,704.2 567,711.5 567,710.9 584,718.2 584,717.6 601,724.9 601,724.3 618,731.6 618,731 635,738.3 635,736.8 631.6,735.4 631.6,733.9 649.6,741.6" stroke="#E76BF3"/><path d="M47.6,742.5 47.7,738.4 48.6,738.8 48.6,731.3 49.1,731.5 49.1,725.3 49.3,725.5 49.3,720.6 49.7,720.8 49.7,716.2 50,716.4 50.2,705.7 50.4,705.8 50.4,700.4 50.8,700.6 50.8,695.9 51,696 51,689.7 51.3,689.8 51.3,684.9 51.6,685 51.6,680 51.9,680.1 52.1,670.5 52.3,670.6 52.3,667.3 52.6,667.5 52.6,662.7 52.9,662.8 52.9,656.5 54.1,657 54.1,653.2 54.5,653.3 54.5,648.8 55.1,649.1 55.1,645.3 56.1,645.7 56.1,640.1 57.4,640.6 57.4,636.1 59.6,637 59.6,632.6 61.3,633.4 61.3,629.2 62.6,629.7 62.6,626.9 64.3,627.7 64.3,624 66.9,625.1 66.9,622.8 67.5,623.1 67.5,618.8 70.9,620.3 70.9,616.3 72.4,617 72.4,614 76.3,615.7 76.3,612.4 81,614.4 81,611.8 82.9,612.7 82.9,609.3 87.5,611.3 87.5,608.6 90,609.7 90,608 92.7,609.1 92.7,606.1 96.9,607.9 96.9,605.5 100.6,607.1 100.6,604.2 103.4,605.4 103.4,602.9 105.6,603.9 105.6,602.1 108.3,603.2 108.3,601.1 112.7,603 112.7,600.5 115.6,601.8 115.6,599.7 119.7,601.5 119.7,599.4 123.2,600.9 123.2,599.3 128.6,601.6 128.6,599.8 131.5,601.1 131.5,599.7 136.2,601.7 136.2,599.5 137.7,600.1 137.7,598.8 139.8,599.7 139.8,597.9 141.8,598.8 141.8,597.3 143.8,598.1 143.8,596.6 146.3,597.7 146.3,596.2 148.3,597.1 148.3,595.9 150.9,597 150.9,595.5 159.7,599.2 159.7,598.1 171.3,603.2 171.3,601.6 181.4,605.9 181.4,604.7 187.4,607.3 187.4,606.2 193.6,608.8 193.6,607.7 200.6,610.7 200.6,609.6 205.4,611.6 205.4,610.6 210.7,612.9 210.7,612 216.5,614.5 216.5,613.9 219.4,615.2 219.4,614.4 221.3,615.2 221.3,614.5 224.4,615.8 224.4,615.3 230.1,617.7 230.1,616.9 233.4,618.3 233.4,617.5 237.6,619.3 237.6,618.6 244.7,621.6 244.7,621 252,624.1 252,623.4 263.2,628.2 263.2,627.6 272.6,631.6 272.6,631.3 274.6,632.2 274.6,631.6 282.3,634.9 282.3,634.4 287.1,636.5 287.1,636.2 293.3,638.8 293.3,638.5 298.2,640.6 298.2,640.3 365.3,669.1 365.3,668.9 372.4,671.9 372.4,671.6 378.2,674 378.2,673.8 382.8,675.8 382.8,675.5 387.5,677.5 387.5,677.3 394.1,680.2 394.1,679.8 402.4,683.4 402.4,683.1 406.6,684.9 406.6,684.6 415.7,688.5 415.7,688.2 420.6,690.3 420.6,689.9 432.6,695.1 432.6,694.8 434.3,695.5 434.3,695.1 448.5,701.2 448.5,700.6 455.8,703.7 455.8,703.3 464.4,707 464.4,706.6 471.6,709.7 471.6,709.1 477.1,711.4 477.1,710.8 481.5,712.7 481.5,712.2 482.8,712.8 482.8,712.3 487,714.1 487,713.5 493.6,716.4 493.6,715.8 494.6,716.3 494.6,715.7 500,718 500,717.2 505.4,719.5 505.4,719 508.8,720.5 508.8,719.5 516.2,722.7 516.2,721.6 522.4,724.3 522.4,723.4 528.1,725.8 528.1,725 533,727.1 533,725.9 544,730.6 544,729.3 547,730.6 547,729.6 556.4,733.7 556.4,732.3 565.3,736.1 565.3,734.2 573.2,737.6 573.2,736.2 585.9,741.7 585.9,739.9 590.8,742 590.8,740.4 595.5,742.4 595.5,741.2 599.5,742.9 599.5,740.6 604.2,742.6 604.2,740.6 609.4,742.8 609.4,740.6 613.9,742.6 613.9,740.8 618.2,742.7 618.2,740.9 621.7,742.5 621.7,741.1 626.1,743 626.1,741.2 631.8,743.7 631.8,741.4 635,742.8 635,741.5 639.5,743.5 639.5,742.3 643.9,744.3 643.9,742.7 645.7,743.5 645.7,742.3 648.6,743.6 648.6,742 649.6,742.5" stroke="#FF62BC"/></g>
<g fill="none" stroke-width="0.8"><path d="M47.7 758.2V766.1M48.6 758.2V766.1M49.1 758.2V766.1M49.3 758.2V766.1M49.7 758.2V766.1M50 758.2V766.1M50.2 758.2V766.1M50.4 758.2V766.1M50.8 758.2V766.1M51 758.2V766.1M51.3 758.2V766.1M51.6 758.2V766.1M51.9 758.2V766.1M52.1 758.2V766.1M52.3 758.2V766.1M52.6 758.2V766.1M52.9 758.2V766.1M54.1 758.2V766.1M54.5 758.2V766.1M55.1 758.2V766.1M56.1 758.2V766.1M57.4 758.2V766.1M59.6 758.2V766.1M61.3 758.2V766.1M62.6 758.2V766.1M64.3 758.2V766.1M66.9 758.2V766.1M67.5 758.2V766.1M70.9 758.2V766.1M72.4 758.2V766.1M76.3 758.2V766.1M81 758.2V766.1M82.9 758.2V766.1M87.5 758.2V766.1M90 758.2V766.1M92.7 758.2V766.1M96.9 758.2V766.1M100.6 758.2V766.1M103.4 758.2V766.1M105.6 758.2V766.1M108.3 758.2V766.1M112.7 758.2V766.1M115.6 758.2V766.1M119.7 758.2V766.1M123.2 758.2V766.1M128.6 758.2V766.1M131.5 758.2V766.1M136.2 758.2V766.1M137.7 758.2V766.1M139.8 758.2V766.1M141.8 758.2V766.1M143.8 758.2V766.1M146.3 758.2V766.1M148.3 758.2V766.1M150.9 758.2V766.1M153.7 758.2V766.1M159.7 758.2V766.1M171.3 758.2V766.1M177.6 758.2V766.1M181.4 758.2V766.1M187.4 758.2V766.1M191.6 758.2V766.1M193.6 758.2V766.1M200.6 758.2V766.1M201.1 758.2V766.1M205.4 758.2V766.1M207.9 758.2V766.1M210.7 758.2V766.1M215.1 758.2V766.1M216 758.2V766.1M216.5 758.2V766.1M219.4 758.2V766.1M221.3 758.2V766.1M224.4 758.2V766.1M230.1 758.2V766.1M233.4 758.2V766.1M237.6 758.2V766.1M244.7 758.2V766.1M246.2 758.2V766.1M251.2 758.2V766.1M252 758.2V766.1M257.1 758.2V766.1M257.3 758.2V766.1M261.4 758.2V766.1M263.2 758.2V766.1M272.6 758.2V766.1M274.6 758.2V766.1M275.1 758.2V766.1M282.3 758.2V766.1M287.1 758.2V766.1M287.3 758.2V766.1M287.4 758.2V766.1M293.3 758.2V766.1M298.2 758.2V766.1M304 758.2V766.1M304.8 758.2V766.1M324.5 758.2V766.1M362.6 758.2V766.1M365.3 758.2V766.1M372.4 758.2V766.1M377.4 758.2V766.1M378.2 758.2V766.1M382.8 758.2V766.1M387.5 758.2V766.1M394.1 758.2V766.1M399.8 758.2V766.1M402.4 758.2V766.1M406.6 758.2V766.1M415.7 758.2V766.1M420.6 758.2V766.1M428 758.2V766.1M432.6 758.2V766.1M434.3 758.2V766.1M448.5 758.2V766.1M455.8 758.2V766.1M464.4 758.2V766.1M471.6 758.2V766.1M477.1 758.2V766.1M481.5 758.2V766.1M482.8 758.2V766.1M487 758.2V766.1M493.6 758.2V766.1M494.6 758.2V766.1M500 758.2V766.1M505.4 758.2V766.1M508.8 758.2V766.1M516.2 758.2V766.1M519.8 758.2V766.1M522.4 758.2V766.1M528.1 758.2V766.1M533 758.2V766.1M536.9 758.2V766.1M544 758.2V766.1M547 758.2V766.1M556.4 758.2V766.1M565.3 758.2V766.1M573.2 758.2V766.1M585.9 758.2V766.1M590.8 758.2V766.1M595.5 758.2V766.1M599.5 758.2V766.1M604.2 758.2V766.1M607 758.2V766.1M609.4 758.2V766.1M613.9 758.2V766.1M618.2 758.2V766.1M621.7 758.2V766.1M626.1 758.2V766.1M631.8 758.2V766.1M635 758.2V766.1M639.5 758.2V766.1M643.9 758.2V766.1M645.7 758.2V766.1M648.6 758.2V766.1" stroke="#FF62BC"/><path d="M47.7 766.1V773.9M48.8 766.1V773.9M49.9 766.1V773.9M51 766.1V773.9M52.1 766.1V773.9M53.2 766.1V773.9M54.4 766.1V773.9M55.5 766.1V773.9M56.5 766.1V773.9M57.5 766.1V773.9M58.9 766.1V773.9M60.9 766.1V773.9M62.5 766.1V773.9M64.3 766.1V773.9M66.3 766.1V773.9M67.6 766.1V773.9M68.6 766.1V773.9M71.2 766.1V773.9M77.1 766.1V773.9M87.9 766.1V773.9M92 766.1V773.9M92.9 766.1V773.9M96 766.1V773.9M98 766.1V773.9M108.9 766.1V773.9M121 766.1V773.9M123.7 766.1V773.9M146.3 766.1V773.9M184.4 766.1V773.9M193.8 766.1V773.9M200 766.1V773.9M225 766.1V773.9M270 766.1V773.9M349.8 766.1V773.9M380 766.1V773.9M397 766.1V773.9M414 766.1V773.9M431 766.1V773.9M448 766.1V773.9M465 766.1V773.9M482 766.1V773.9M499 766.1V773.9M516 766.1V773.9M533 766.1V773.9M550 766.1V773.9M567 766.1V773.9M584 766.1V773.9M601 766.1V773.9M618 766.1V773.9M631.6 766.1V773.9M635 766.1V773.9" stroke="#E76BF3"/><path d="M47.8 773.9V781.8M49.1 773.9V781.8M49.5 773.9V781.8M49.8 773.9V781.8M50.2 773.9V781.8M50.6 773.9V781.8M51.1 773.9V781.8M51.3 773.9V781.8M51.6 773.9V781.8M52.1 773.9V781.8M52.3 773.9V781.8M53.4 773.9V781.8M54.2 773.9V781.8M55 773.9V781.8M56.3 773.9V781.8M58.6 773.9V781.8M60.3 773.9V781.8M62.2 773.9V781.8M64.8 773.9V781.8M68.8 773.9V781.8M69.1 773.9V781.8M74 773.9V781.8M76.8 773.9V781.8M80 773.9V781.8M83.4 773.9V781.8M86 773.9V781.8M90.2 773.9V781.8M94.3 773.9V781.8M95.7 773.9V781.8M101 773.9V781.8M101.3 773.9V781.8M104.9 773.9V781.8M108.7 773.9V781.8M115.3 773.9V781.8M120.3 773.9V781.8M121.6 773.9V781.8M128.6 773.9V781.8M135.1 773.9V781.8M138.2 773.9V781.8M140.1 773.9V781.8M142.7 773.9V781.8M145.7 773.9V781.8M147.9 773.9V781.8M149.7 773.9V781.8M152.2 773.9V781.8M166.5 773.9V781.8M170.7 773.9V781.8M173.1 773.9V781.8M174.7 773.9V781.8M179.2 773.9V781.8M187 773.9V781.8M192.8 773.9V781.8M202.6 773.9V781.8M207.5 773.9V781.8M215.2 773.9V781.8M216.2 773.9V781.8M217.5 773.9V781.8M221.8 773.9V781.8M231.2 773.9V781.8M238.1 773.9V781.8M239 773.9V781.8M246.1 773.9V781.8M250.6 773.9V781.8M255.5 773.9V781.8M263.4 773.9V781.8M274.1 773.9V781.8M278.7 773.9V781.8M279.9 773.9V781.8M289 773.9V781.8M293.8 773.9V781.8M296.7 773.9V781.8M307 773.9V781.8M321.2 773.9V781.8M345.3 773.9V781.8M358.1 773.9V781.8M366 773.9V781.8M366.1 773.9V781.8M367.5 773.9V781.8M376.6 773.9V781.8M383.2 773.9V781.8M385.7 773.9V781.8M394.8 773.9V781.8M404.5 773.9V781.8M419.6 773.9V781.8M420.6 773.9V781.8M432.5 773.9V781.8M447.5 773.9V781.8M454.6 773.9V781.8M461.7 773.9V781.8M468 773.9V781.8M470.4 773.9V781.8M480.6 773.9V781.8M486.1 773.9V781.8M490 773.9V781.8M493.9 773.9V781.8M503.1 773.9V781.8M513.1 773.9V781.8M523.4 773.9V781.8M537.9 773.9V781.8M539.7 773.9V781.8M543.4 773.9V781.8M552.7 773.9V781.8M568 773.9V781.8M574.4 773.9V781.8M580.7 773.9V781.8M591.2 773.9V781.8M595.6 773.9V781.8M597.3 773.9V781.8M601.4 773.9V781.8M606.5 773.9V781.8M611.2 773.9V781.8M617.2 773.9V781.8M621.3 773.9V781.8M623.6 773.9V781.8M631.5 773.9V781.8M632.7 773.9V781.8M636.3 773.9V781.8M640 773.9V781.8" stroke="#9590FF"/><path d="M51.3 781.8V789.6M53.1 781.8V789.6M57.7 781.8V789.6M64.1 781.8V789.6M65.1 781.8V789.6M71.2 781.8V789.6M73 781.8V789.6M74.6 781.8V789.6M77.1 781.8V789.6M77.3 781.8V789.6M80.2 781.8V789.6M81.1 781.8V789.6M87.1 781.8V789.6M88.7 781.8V789.6M91.5 781.8V789.6M94.7 781.8V789.6M99.2 781.8V789.6M109.5 781.8V789.6M115.5 781.8V789.6M116.3 781.8V789.6M121.6 781.8V789.6M125 781.8V789.6M130.3 781.8V789.6M134.7 781.8V789.6M136.4 781.8V789.6M138.2 781.8V789.6M142.8 781.8V789.6M148.2 781.8V789.6M149.8 781.8V789.6M169.8 781.8V789.6M188 781.8V789.6M210.7 781.8V789.6M226.6 781.8V789.6M230.4 781.8V789.6M236.4 781.8V789.6M239.3 781.8V789.6M247 781.8V789.6M259.7 781.8V789.6M267.8 781.8V789.6M272.8 781.8V789.6M281 781.8V789.6M291.6 781.8V789.6M309 781.8V789.6M309.1 781.8V789.6M338.7 781.8V789.6M352.9 781.8V789.6M359.9 781.8V789.6M371.8 781.8V789.6M381.3 781.8V789.6M399.5 781.8V789.6M421.4 781.8V789.6M457 781.8V789.6M463.6 781.8V789.6M479.4 781.8V789.6M486.7 781.8V789.6M495.2 781.8V789.6M550.2 781.8V789.6M559.6 781.8V789.6M580.8 781.8V789.6M594.7 781.8V789.6M606.2 781.8V789.6M617.5 781.8V789.6M625.8 781.8V789.6M637.1 781.8V789.6M644.5 781.8V789.6" stroke="#00B0F6"/><path d="M50 789.6V797.5M52.1 789.6V797.5M53.3 789.6V797.5M54.8 789.6V797.5M57.5 789.6V797.5M58.1 789.6V797.5M60 789.6V797.5M62.7 789.6V797.5M65.4 789.6V797.5M66.1 789.6V797.5M67.7 789.6V797.5M70.4 789.6V797.5M72 789.6V797.5M74.7 789.6V797.5M76.2 789.6V797.5M77.3 789.6V797.5M77.9 789.6V797.5M81.2 789.6V797.5M82.5 789.6V797.5M83.8 789.6V797.5M85.7 789.6V797.5M86.6 789.6V797.5M87.7 789.6V797.5M88.7 789.6V797.5M89.9 789.6V797.5M91.7 789.6V797.5M94 789.6V797.5M96.8 789.6V797.5M97.5 789.6V797.5M99.2 789.6V797.5M101.3 789.6V797.5M101.6 789.6V797.5M104.4 789.6V797.5M107.7 789.6V797.5M109.1 789.6V797.5M112 789.6V797.5M113.6 789.6V797.5M115 789.6V797.5M116.1 789.6V797.5M119 789.6V797.5M121.4 789.6V797.5M124.5 789.6V797.5M128.1 789.6V797.5M130.5 789.6V797.5M132.8 789.6V797.5M136.3 789.6V797.5M140.5 789.6V797.5M145.1 789.6V797.5M147.5 789.6V797.5M152.2 789.6V797.5M155 789.6V797.5M156.1 789.6V797.5M159.2 789.6V797.5M162.3 789.6V797.5M164.6 789.6V797.5M167.1 789.6V797.5M171.3 789.6V797.5M175.8 789.6V797.5M179.5 789.6V797.5M183.2 789.6V797.5M186.4 789.6V797.5M191.6 789.6V797.5M193.9 789.6V797.5M197.9 789.6V797.5M199.9 789.6V797.5M205.1 789.6V797.5M206.6 789.6V797.5M210.9 789.6V797.5M214.9 789.6V797.5M215.5 789.6V797.5M217.5 789.6V797.5M219.7 789.6V797.5M222.3 789.6V797.5M222.9 789.6V797.5M226.2 789.6V797.5M228.1 789.6V797.5M230.4 789.6V797.5M230.8 789.6V797.5M233 789.6V797.5M235.8 789.6V797.5M237.7 789.6V797.5M240 789.6V797.5M245.2 789.6V797.5M248.6 789.6V797.5M256.2 789.6V797.5M257.1 789.6V797.5M261.4 789.6V797.5M268.1 789.6V797.5M269.4 789.6V797.5M274 789.6V797.5M278.8 789.6V797.5M279.8 789.6V797.5M284.2 789.6V797.5M287.8 789.6V797.5M292.3 789.6V797.5M293.9 789.6V797.5M296.2 789.6V797.5M296.7 789.6V797.5M305.2 789.6V797.5M305.4 789.6V797.5M308.5 789.6V797.5M314.4 789.6V797.5M316.6 789.6V797.5M341.7 789.6V797.5M373.6 789.6V797.5M378.7 789.6V797.5M386.3 789.6V797.5M388.3 789.6V797.5M391.1 789.6V797.5M394.2 789.6V797.5M397.1 789.6V797.5M401.8 789.6V797.5M409 789.6V797.5M412.3 789.6V797.5M418.4 789.6V797.5M420.8 789.6V797.5M425.1 789.6V797.5M438.4 789.6V797.5M448 789.6V797.5M467.5 789.6V797.5M467.9 789.6V797.5M476.2 789.6V797.5M480.3 789.6V797.5M482.7 789.6V797.5M489.1 789.6V797.5M498.9 789.6V797.5M503.4 789.6V797.5M503.6 789.6V797.5M511.2 789.6V797.5M511.6 789.6V797.5M517.5 789.6V797.5M525 789.6V797.5M533.4 789.6V797.5M537.4 789.6V797.5M538.7 789.6V797.5M542.3 789.6V797.5M547.4 789.6V797.5M569.9 789.6V797.5M584.4 789.6V797.5M587.7 789.6V797.5M593 789.6V797.5M597 789.6V797.5M600 789.6V797.5M602.5 789.6V797.5M605.9 789.6V797.5M611.5 789.6V797.5M613.7 789.6V797.5M618.2 789.6V797.5M623 789.6V797.5M627.5 789.6V797.5M632.6 789.6V797.5M637.8 789.6V797.5M642 789.6V797.5M644.3 789.6V797.5M646.3 789.6V797.5M648.7 789.6V797.5" stroke="#00BFC4"/><path d="M47.8 797.5V805.4M48.2 797.5V805.4M48.8 797.5V805.4M49.5 797.5V805.4M50.3 797.5V805.4M50.9 797.5V805.4M51.4 797.5V805.4M52 797.5V805.4M52.9 797.5V805.4M53.6 797.5V805.4M54.3 797.5V805.4M55.5 797.5V805.4M55.7 797.5V805.4M59.6 797.5V805.4M60.9 797.5V805.4M63.6 797.5V805.4M63.9 797.5V805.4M66 797.5V805.4M67.2 797.5V805.4M69.1 797.5V805.4M69.8 797.5V805.4M75.6 797.5V805.4M79.2 797.5V805.4M86.5 797.5V805.4M89.7 797.5V805.4M93.2 797.5V805.4M97.9 797.5V805.4M101.7 797.5V805.4M102.5 797.5V805.4M105.4 797.5V805.4M105.6 797.5V805.4M108.1 797.5V805.4M109.6 797.5V805.4M115 797.5V805.4M119 797.5V805.4M122.4 797.5V805.4M128.8 797.5V805.4M134.7 797.5V805.4M151.1 797.5V805.4M158.1 797.5V805.4M161.1 797.5V805.4M165.2 797.5V805.4M170.1 797.5V805.4M175.6 797.5V805.4M177.8 797.5V805.4M189.5 797.5V805.4M192.1 797.5V805.4M195.1 797.5V805.4M197.4 797.5V805.4M202.1 797.5V805.4M203.5 797.5V805.4M208.5 797.5V805.4M213.4 797.5V805.4M216.7 797.5V805.4M218.8 797.5V805.4M221.6 797.5V805.4M251.3 797.5V805.4M252.7 797.5V805.4M271.3 797.5V805.4M278.9 797.5V805.4M287 797.5V805.4M298.9 797.5V805.4M301.2 797.5V805.4M309.6 797.5V805.4M318.6 797.5V805.4M322.1 797.5V805.4M324.6 797.5V805.4M330.7 797.5V805.4M339.8 797.5V805.4M340.9 797.5V805.4M363.8 797.5V805.4M367.4 797.5V805.4M379.7 797.5V805.4M383.9 797.5V805.4M386.1 797.5V805.4M392 797.5V805.4M410.5 797.5V805.4M415.5 797.5V805.4M443.7 797.5V805.4M446.9 797.5V805.4M473.9 797.5V805.4M494.1 797.5V805.4M497.2 797.5V805.4M506.5 797.5V805.4M510 797.5V805.4M512.1 797.5V805.4M516.8 797.5V805.4M519.2 797.5V805.4M522.6 797.5V805.4M529.3 797.5V805.4M538.5 797.5V805.4M548.9 797.5V805.4M555.8 797.5V805.4M562 797.5V805.4M570 797.5V805.4M576.5 797.5V805.4M582.2 797.5V805.4M589.2 797.5V805.4M593.4 797.5V805.4M599.2 797.5V805.4M601.8 797.5V805.4M605.7 797.5V805.4M610.5 797.5V805.4M615.5 797.5V805.4M619.3 797.5V805.4M631.1 797.5V805.4M640.2 797.5V805.4M646.3 797.5V805.4" stroke="#00BF7D"/><path d="M49 805.4V813.2M50.5 805.4V813.2M52.3 805.4V813.2M53.6 805.4V813.2M55 805.4V813.2M56.9 805.4V813.2M58.8 805.4V813.2M61.7 805.4V813.2M64.7 805.4V813.2M66.3 805.4V813.2M67.6 805.4V813.2M69.7 805.4V813.2M72.4 805.4V813.2M76.4 805.4V813.2M88.6 805.4V813.2M91.3 805.4V813.2M121 805.4V813.2M123.7 805.4V813.2M129.1 805.4V813.2M135 805.4V813.2M140 805.4V813.2M146 805.4V813.2M152 805.4V813.2M160 805.4V813.2M170 805.4V813.2M195 805.4V813.2M210 805.4V813.2M225 805.4V813.2M232 805.4V813.2M240 805.4V813.2M248 805.4V813.2M256 805.4V813.2M264 805.4V813.2M272 805.4V813.2M282 805.4V813.2M292 805.4V813.2M320 805.4V813.2M345 805.4V813.2M381 805.4V813.2M390 805.4V813.2M406.3 805.4V813.2M420 805.4V813.2M437.3 805.4V813.2M450 805.4V813.2M472 805.4V813.2M478 805.4V813.2M484 805.4V813.2M490 805.4V813.2M496 805.4V813.2M527 805.4V813.2M545 805.4V813.2M560 805.4V813.2M586.2 805.4V813.2M590 805.4V813.2M631.6 805.4V813.2" stroke="#D89000"/><path d="M48.1 813.2V821.1M49.2 813.2V821.1M49.7 813.2V821.1M49.8 813.2V821.1M50.4 813.2V821.1M50.8 813.2V821.1M51 813.2V821.1M51.4 813.2V821.1M51.8 813.2V821.1M53.6 813.2V821.1M55.9 813.2V821.1M56.8 813.2V821.1M59 813.2V821.1M60.8 813.2V821.1M62.4 813.2V821.1M64.5 813.2V821.1M65.8 813.2V821.1M68 813.2V821.1M75.2 813.2V821.1M78.2 813.2V821.1M79.3 813.2V821.1M82.8 813.2V821.1M86.5 813.2V821.1M87.4 813.2V821.1M88.7 813.2V821.1M89.3 813.2V821.1M89.7 813.2V821.1M90.3 813.2V821.1M92.6 813.2V821.1M95.1 813.2V821.1M97 813.2V821.1M100.2 813.2V821.1M107.5 813.2V821.1M114.5 813.2V821.1M115.4 813.2V821.1M116.1 813.2V821.1M121 813.2V821.1M127.2 813.2V821.1M129.9 813.2V821.1M133.5 813.2V821.1M137.7 813.2V821.1M140.3 813.2V821.1M143.9 813.2V821.1M146.4 813.2V821.1M150.3 813.2V821.1M154.7 813.2V821.1M158.8 813.2V821.1M164.8 813.2V821.1M166 813.2V821.1M170.1 813.2V821.1M175.1 813.2V821.1M178.9 813.2V821.1M183 813.2V821.1M188.5 813.2V821.1M193.9 813.2V821.1M195.6 813.2V821.1M201.6 813.2V821.1M204.5 813.2V821.1M206.5 813.2V821.1M210.7 813.2V821.1M215.6 813.2V821.1M219.8 813.2V821.1M220.2 813.2V821.1M223.3 813.2V821.1M225.7 813.2V821.1M228.2 813.2V821.1M231.2 813.2V821.1M234.7 813.2V821.1M237.9 813.2V821.1M239.4 813.2V821.1M244.2 813.2V821.1M253 813.2V821.1M258.2 813.2V821.1M265.5 813.2V821.1M270.8 813.2V821.1M272.5 813.2V821.1M279.2 813.2V821.1M279.9 813.2V821.1M283.4 813.2V821.1M289.3 813.2V821.1M293.1 813.2V821.1M295.5 813.2V821.1M298.7 813.2V821.1M299.1 813.2V821.1M311.2 813.2V821.1M316.4 813.2V821.1M322.1 813.2V821.1M326.2 813.2V821.1M328.6 813.2V821.1M356.2 813.2V821.1M361 813.2V821.1M366 813.2V821.1M370.2 813.2V821.1M375.9 813.2V821.1M380.5 813.2V821.1M386.5 813.2V821.1M392.3 813.2V821.1M399.4 813.2V821.1M404.9 813.2V821.1M414.9 813.2V821.1M417.6 813.2V821.1M429.2 813.2V821.1M432.8 813.2V821.1M441.9 813.2V821.1M453.8 813.2V821.1M470.1 813.2V821.1M478.1 813.2V821.1M482.4 813.2V821.1M492 813.2V821.1M498 813.2V821.1M502.9 813.2V821.1M505.8 813.2V821.1M509.6 813.2V821.1M515.7 813.2V821.1M523 813.2V821.1M531.1 813.2V821.1M535.3 813.2V821.1M536.7 813.2V821.1M542.9 813.2V821.1M550.2 813.2V821.1M556.4 813.2V821.1M566 813.2V821.1M571.8 813.2V821.1M575.4 813.2V821.1M584.2 813.2V821.1M588.3 813.2V821.1M596.3 813.2V821.1M599.5 813.2V821.1M604.7 813.2V821.1M612.6 813.2V821.1M616 813.2V821.1M622.7 813.2V821.1M626.6 813.2V821.1M630.4 813.2V821.1M634.2 813.2V821.1M641.8 813.2V821.1M645 813.2V821.1" stroke="#39B600"/><path d="M47.7 821.1V828.9M48.1 821.1V828.9M48.3 821.1V828.9M49.1 821.1V828.9M49.2 821.1V828.9M49.3 821.1V828.9M49.5 821.1V828.9M49.7 821.1V828.9M49.8 821.1V828.9M50 821.1V828.9M50.4 821.1V828.9M50.8 821.1V828.9M51 821.1V828.9M51.1 821.1V828.9M51.3 821.1V828.9M51.4 821.1V828.9M51.8 821.1V828.9M51.9 821.1V828.9M52.3 821.1V828.9M52.7 821.1V828.9M53.6 821.1V828.9M55.9 821.1V828.9M56.3 821.1V828.9M56.8 821.1V828.9M56.9 821.1V828.9M58.7 821.1V828.9M59 821.1V828.9M59.3 821.1V828.9M60.8 821.1V828.9M60.9 821.1V828.9M62.4 821.1V828.9M62.8 821.1V828.9M64.5 821.1V828.9M64.6 821.1V828.9M65.8 821.1V828.9M66.9 821.1V828.9M67.7 821.1V828.9M68 821.1V828.9M71.2 821.1V828.9M74.4 821.1V828.9M75.2 821.1V828.9M78 821.1V828.9M78.2 821.1V828.9M79.3 821.1V828.9M80.7 821.1V828.9M82.8 821.1V828.9M83.6 821.1V828.9M85.8 821.1V828.9M86.5 821.1V828.9M87.4 821.1V828.9M87.5 821.1V828.9M88.7 821.1V828.9M88.8 821.1V828.9M89.3 821.1V828.9M89.5 821.1V828.9M89.7 821.1V828.9M90.3 821.1V828.9M91.2 821.1V828.9M91.8 821.1V828.9M92.6 821.1V828.9M93.3 821.1V828.9M94.1 821.1V828.9M95.1 821.1V828.9M95.7 821.1V828.9M97 821.1V828.9M98.8 821.1V828.9M99.5 821.1V828.9M100.2 821.1V828.9M104.3 821.1V828.9M107.5 821.1V828.9M112.7 821.1V828.9M114.5 821.1V828.9M115.3 821.1V828.9M115.4 821.1V828.9M116.1 821.1V828.9M116.8 821.1V828.9M119.3 821.1V828.9M121 821.1V828.9M123 821.1V828.9M123.8 821.1V828.9M127 821.1V828.9M127.2 821.1V828.9M129 821.1V828.9M129.9 821.1V828.9M132.2 821.1V828.9M133.5 821.1V828.9M134.2 821.1V828.9M137.7 821.1V828.9M140.1 821.1V828.9M140.3 821.1V828.9M141.9 821.1V828.9M143.9 821.1V828.9M145.8 821.1V828.9M146.4 821.1V828.9M148.1 821.1V828.9M150.3 821.1V828.9M151.2 821.1V828.9M152.8 821.1V828.9M154.7 821.1V828.9M156.6 821.1V828.9M158.8 821.1V828.9M159.6 821.1V828.9M163.2 821.1V828.9M164.8 821.1V828.9M166 821.1V828.9M167.2 821.1V828.9M168.6 821.1V828.9M170.1 821.1V828.9M174.2 821.1V828.9M175.1 821.1V828.9M177.5 821.1V828.9M178.9 821.1V828.9M182.5 821.1V828.9M183 821.1V828.9M185.3 821.1V828.9M188.5 821.1V828.9M190.6 821.1V828.9M193.9 821.1V828.9M195.6 821.1V828.9M199.1 821.1V828.9M201.6 821.1V828.9M204.5 821.1V828.9M204.6 821.1V828.9M206.5 821.1V828.9M210.3 821.1V828.9M210.7 821.1V828.9M211.8 821.1V828.9M213.8 821.1V828.9M215.6 821.1V828.9M217.6 821.1V828.9M219.8 821.1V828.9M220.2 821.1V828.9M222 821.1V828.9M223.3 821.1V828.9M224.1 821.1V828.9M225.7 821.1V828.9M227.4 821.1V828.9M228.2 821.1V828.9M229.6 821.1V828.9M231.2 821.1V828.9M231.6 821.1V828.9M234.7 821.1V828.9M235.6 821.1V828.9M237.9 821.1V828.9M239.4 821.1V828.9M240.2 821.1V828.9M244.2 821.1V828.9M244.3 821.1V828.9M250.4 821.1V828.9M253 821.1V828.9M256.4 821.1V828.9M258.2 821.1V828.9M262.6 821.1V828.9M265.5 821.1V828.9M267 821.1V828.9M270.8 821.1V828.9M273.8 821.1V828.9M277.5 821.1V828.9M279.2 821.1V828.9M279.5 821.1V828.9M283.4 821.1V828.9M284.7 821.1V828.9M287.7 821.1V828.9M289.3 821.1V828.9M290.4 821.1V828.9M293.1 821.1V828.9M293.8 821.1V828.9M295.5 821.1V828.9M296.8 821.1V828.9M299.1 821.1V828.9M304.8 821.1V828.9M308.8 821.1V828.9M320.7 821.1V828.9M328.6 821.1V828.9M329.3 821.1V828.9M343.7 821.1V828.9M354.3 821.1V828.9M356.2 821.1V828.9M366 821.1V828.9M366.4 821.1V828.9M370.2 821.1V828.9M375.9 821.1V828.9M376.1 821.1V828.9M380.5 821.1V828.9M385 821.1V828.9M386.5 821.1V828.9M392.3 821.1V828.9M394.6 821.1V828.9M399.4 821.1V828.9M404.8 821.1V828.9M404.9 821.1V828.9M414.9 821.1V828.9M415.2 821.1V828.9M429.1 821.1V828.9M429.2 821.1V828.9M432.8 821.1V828.9M441.9 821.1V828.9M446.4 821.1V828.9M453.1 821.1V828.9M453.8 821.1V828.9M470.1 821.1V828.9M473.3 821.1V828.9M476.4 821.1V828.9M478.1 821.1V828.9M479.5 821.1V828.9M482.4 821.1V828.9M484.3 821.1V828.9M486.7 821.1V828.9M492 821.1V828.9M492.1 821.1V828.9M497.7 821.1V828.9M498 821.1V828.9M502.4 821.1V828.9M502.9 821.1V828.9M505.5 821.1V828.9M505.8 821.1V828.9M509.6 821.1V828.9M510.1 821.1V828.9M513.7 821.1V828.9M515.7 821.1V828.9M518 821.1V828.9M519.9 821.1V828.9M523 821.1V828.9M524 821.1V828.9M530.4 821.1V828.9M531.1 821.1V828.9M535.3 821.1V828.9M536.7 821.1V828.9M538.3 821.1V828.9M542.9 821.1V828.9M548.3 821.1V828.9M549.3 821.1V828.9M550.2 821.1V828.9M555.2 821.1V828.9M556.4 821.1V828.9M560.6 821.1V828.9M563.6 821.1V828.9M566 821.1V828.9M569.2 821.1V828.9M571.8 821.1V828.9M575.4 821.1V828.9M576.8 821.1V828.9M581 821.1V828.9M584.2 821.1V828.9M587.3 821.1V828.9M588.3 821.1V828.9M589.3 821.1V828.9M593.9 821.1V828.9M596.3 821.1V828.9M597.3 821.1V828.9M599.5 821.1V828.9M602.2 821.1V828.9M604 821.1V828.9M604.7 821.1V828.9M609.2 821.1V828.9M612.4 821.1V828.9M612.6 821.1V828.9M615.1 821.1V828.9M616 821.1V828.9M618.8 821.1V828.9M621.9 821.1V828.9M622.7 821.1V828.9M625.8 821.1V828.9M626.6 821.1V828.9M630.4 821.1V828.9M630.5 821.1V828.9M631.3 821.1V828.9M633.8 821.1V828.9M634.2 821.1V828.9M637.5 821.1V828.9M641.4 821.1V828.9M641.8 821.1V828.9M644.2 821.1V828.9M645 821.1V828.9M649 821.1V828.9" stroke="#A3A500"/><path d="M49 828.9V836.8M50.3 828.9V836.8M51.4 828.9V836.8M52.1 828.9V836.8M52.7 828.9V836.8M53.5 828.9V836.8M54.1 828.9V836.8M57.8 828.9V836.8M61.8 828.9V836.8M66.8 828.9V836.8M72 828.9V836.8M77.2 828.9V836.8M77.4 828.9V836.8M83.1 828.9V836.8M86.4 828.9V836.8M98.3 828.9V836.8M102.5 828.9V836.8M104 828.9V836.8M109.9 828.9V836.8M110.5 828.9V836.8M110.9 828.9V836.8M120.4 828.9V836.8M123.4 828.9V836.8M125.2 828.9V836.8M130.1 828.9V836.8M144.8 828.9V836.8M157.7 828.9V836.8M159.7 828.9V836.8M165.9 828.9V836.8M171.9 828.9V836.8M175.6 828.9V836.8M184.5 828.9V836.8M187.1 828.9V836.8M199.5 828.9V836.8M206.3 828.9V836.8M216.9 828.9V836.8M220.7 828.9V836.8M224.5 828.9V836.8M230.9 828.9V836.8M232.7 828.9V836.8M237.1 828.9V836.8M249.4 828.9V836.8M255.4 828.9V836.8M266.8 828.9V836.8M281.4 828.9V836.8M289.8 828.9V836.8M297.7 828.9V836.8M372 828.9V836.8M379.6 828.9V836.8M386.7 828.9V836.8M406.9 828.9V836.8M432.6 828.9V836.8M448.6 828.9V836.8M479.7 828.9V836.8M493.3 828.9V836.8M517.5 828.9V836.8M522 828.9V836.8M565.9 828.9V836.8" stroke="#F8766D"/></g>
<path d="M47.1 527.2V978.0H649.6" stroke="#777777" stroke-width="1.2" fill="none"/>
<path d="M44.9 742.5H47.1M44.9 691.2H47.1M44.9 639.9H47.1M44.9 588.6H47.1M44.9 537.3H47.1M44.9 843.0H47.1M44.9 886.0H47.1M44.9 929.0H47.1M44.9 972.0H47.1M213.3 978.0v2.2M379.0 978.0v2.2M544.6 978.0v2.2" stroke="#777777" stroke-width="1.2" fill="none"/>
<g fill="#4D4D4D" font-size="9" text-anchor="end"><text x="42.3" y="744.0">0.0</text><text x="42.3" y="692.7">0.2</text><text x="42.3" y="641.4">0.4</text><text x="42.3" y="590.1">0.6</text><text x="42.3" y="538.8">0.8</text><text x="42.3" y="844.5">1.0</text><text x="42.3" y="887.5">0.5</text><text x="42.3" y="930.5">0.0</text><text x="44.6" y="973.5">−0.5</text></g>
<g fill="#4D4D4D" font-size="9" text-anchor="middle"><text x="216" y="986.9">5000</text><text x="383.2" y="986.9">10000</text><text x="552" y="986.9">15000</text></g>
<text x="391.9" y="1003.5" font-size="13.8" text-anchor="middle" fill="#000">Rank in Ordered Dataset</text>
<text transform="translate(18.9,642.9) rotate(-90)" font-size="13.8" text-anchor="middle" fill="#000">Running Enrichment Score</text>
<text transform="translate(18.4,898.4) rotate(-90)" font-size="13.8" text-anchor="middle" fill="#000">Ranked list metric</text>
<text x="5.5" y="511.8" font-size="13" fill="#000">B</text>
<rect x="590.6" y="512.2" width="64.4" height="10.6" fill="#D0D0D0"/>
<rect x="590.6" y="522.80" width="64.4" height="12.15" fill="#F2F2F2"/>
<rect x="590.6" y="534.95" width="64.4" height="12.15" fill="#E5E5E5"/>
<rect x="590.6" y="547.10" width="64.4" height="12.15" fill="#F2F2F2"/>
<rect x="590.6" y="559.25" width="64.4" height="12.15" fill="#E5E5E5"/>
<rect x="590.6" y="571.40" width="64.4" height="12.15" fill="#F2F2F2"/>
<rect x="590.6" y="583.55" width="64.4" height="12.15" fill="#E5E5E5"/>
<rect x="590.6" y="595.70" width="64.4" height="12.15" fill="#F2F2F2"/>
<rect x="590.6" y="607.85" width="64.4" height="12.15" fill="#E5E5E5"/>
<rect x="590.6" y="620.00" width="64.4" height="12.15" fill="#F2F2F2"/>
<rect x="590.6" y="632.15" width="64.4" height="12.15" fill="#E5E5E5"/>
<path d="M620.5 512.2V644.3M590.6 522.80H655M590.6 534.95H655M590.6 547.10H655M590.6 559.25H655M590.6 571.40H655M590.6 583.55H655M590.6 595.70H655M590.6 607.85H655M590.6 620.00H655M590.6 632.15H655M590.6 644.30H655" stroke="#fff" stroke-width="1" fill="none"/>
<g font-size="7.3" font-weight="bold" text-anchor="middle" fill="#000"><text x="605.5" y="520.3">pvalue</text><text x="637.8" y="520.3">p.adjust</text></g>
<g font-size="8.0" text-anchor="middle" fill="#1a1a1a"><text x="605.5" y="532.4">0</text><text x="637.8" y="532.4">0</text><text x="605.5" y="544.5">0</text><text x="637.8" y="544.5">0</text><text x="605.5" y="556.7">0</text><text x="637.8" y="556.7">0</text><text x="605.5" y="568.8">0</text><text x="637.8" y="568.8">0</text><text x="605.5" y="581.0">0</text><text x="637.8" y="581.0">0</text><text x="605.5" y="593.1">0</text><text x="637.8" y="593.1">0</text><text x="605.5" y="605.3">0</text><text x="637.8" y="605.3">0</text><text x="605.5" y="617.4">0</text><text x="637.8" y="617.4">0</text><text x="605.5" y="629.6">0</text><text x="637.8" y="629.6">0</text><text x="605.5" y="641.7">0</text><text x="637.8" y="641.7">0</text></g>
<g font-size="8.0" text-anchor="end"><text x="574.3" y="532.2" fill="#F8766D" textLength="310.7" lengthAdjust="spacingAndGlyphs">GO_ANAPHASE_PROMOTING_COMPLEX_DEPENDENT_CATABOLIC_PROCESS</text><text x="574.3" y="544.3" fill="#D89000" textLength="200.8" lengthAdjust="spacingAndGlyphs">GO_ATP_DEPENDENT_CHROMATIN_REMODELING</text><text x="573.6" y="556.4" fill="#A3A500" textLength="88.7" lengthAdjust="spacingAndGlyphs">GO_ATPASE_ACTIVITY</text><text x="575.7" y="568.4" fill="#39B600" textLength="118.4" lengthAdjust="spacingAndGlyphs">GO_ATPASE_ACTIVITY_COUPLED</text><text x="575.7" y="580.5" fill="#00BF7D" textLength="155.2" lengthAdjust="spacingAndGlyphs">GO_CATALYTIC_ACTIVITY_ACTING_ON_DNA</text><text x="575.7" y="592.6" fill="#00BFC4" textLength="155.2" lengthAdjust="spacingAndGlyphs">GO_CATALYTIC_ACTIVITY_ACTING_ON_RNA</text><text x="575.7" y="604.7" fill="#00B0F6" textLength="140.6" lengthAdjust="spacingAndGlyphs">GO_CATALYTIC_STEP_2_SPLICEOSOME</text><text x="575.4" y="616.8" fill="#9590FF" textLength="113.3" lengthAdjust="spacingAndGlyphs">GO_CELL_CYCLE_CHECKPOINT</text><text x="575.9" y="628.8" fill="#E76BF3" textLength="133.6" lengthAdjust="spacingAndGlyphs">GO_CELL_CYCLE_DNA_REPLICATION</text><text x="575.9" y="640.9" fill="#FF62BC" textLength="161.9" lengthAdjust="spacingAndGlyphs">GO_CELL_CYCLE_G1_S_PHASE_TRANSITION</text></g>
</svg>
</body></html>
